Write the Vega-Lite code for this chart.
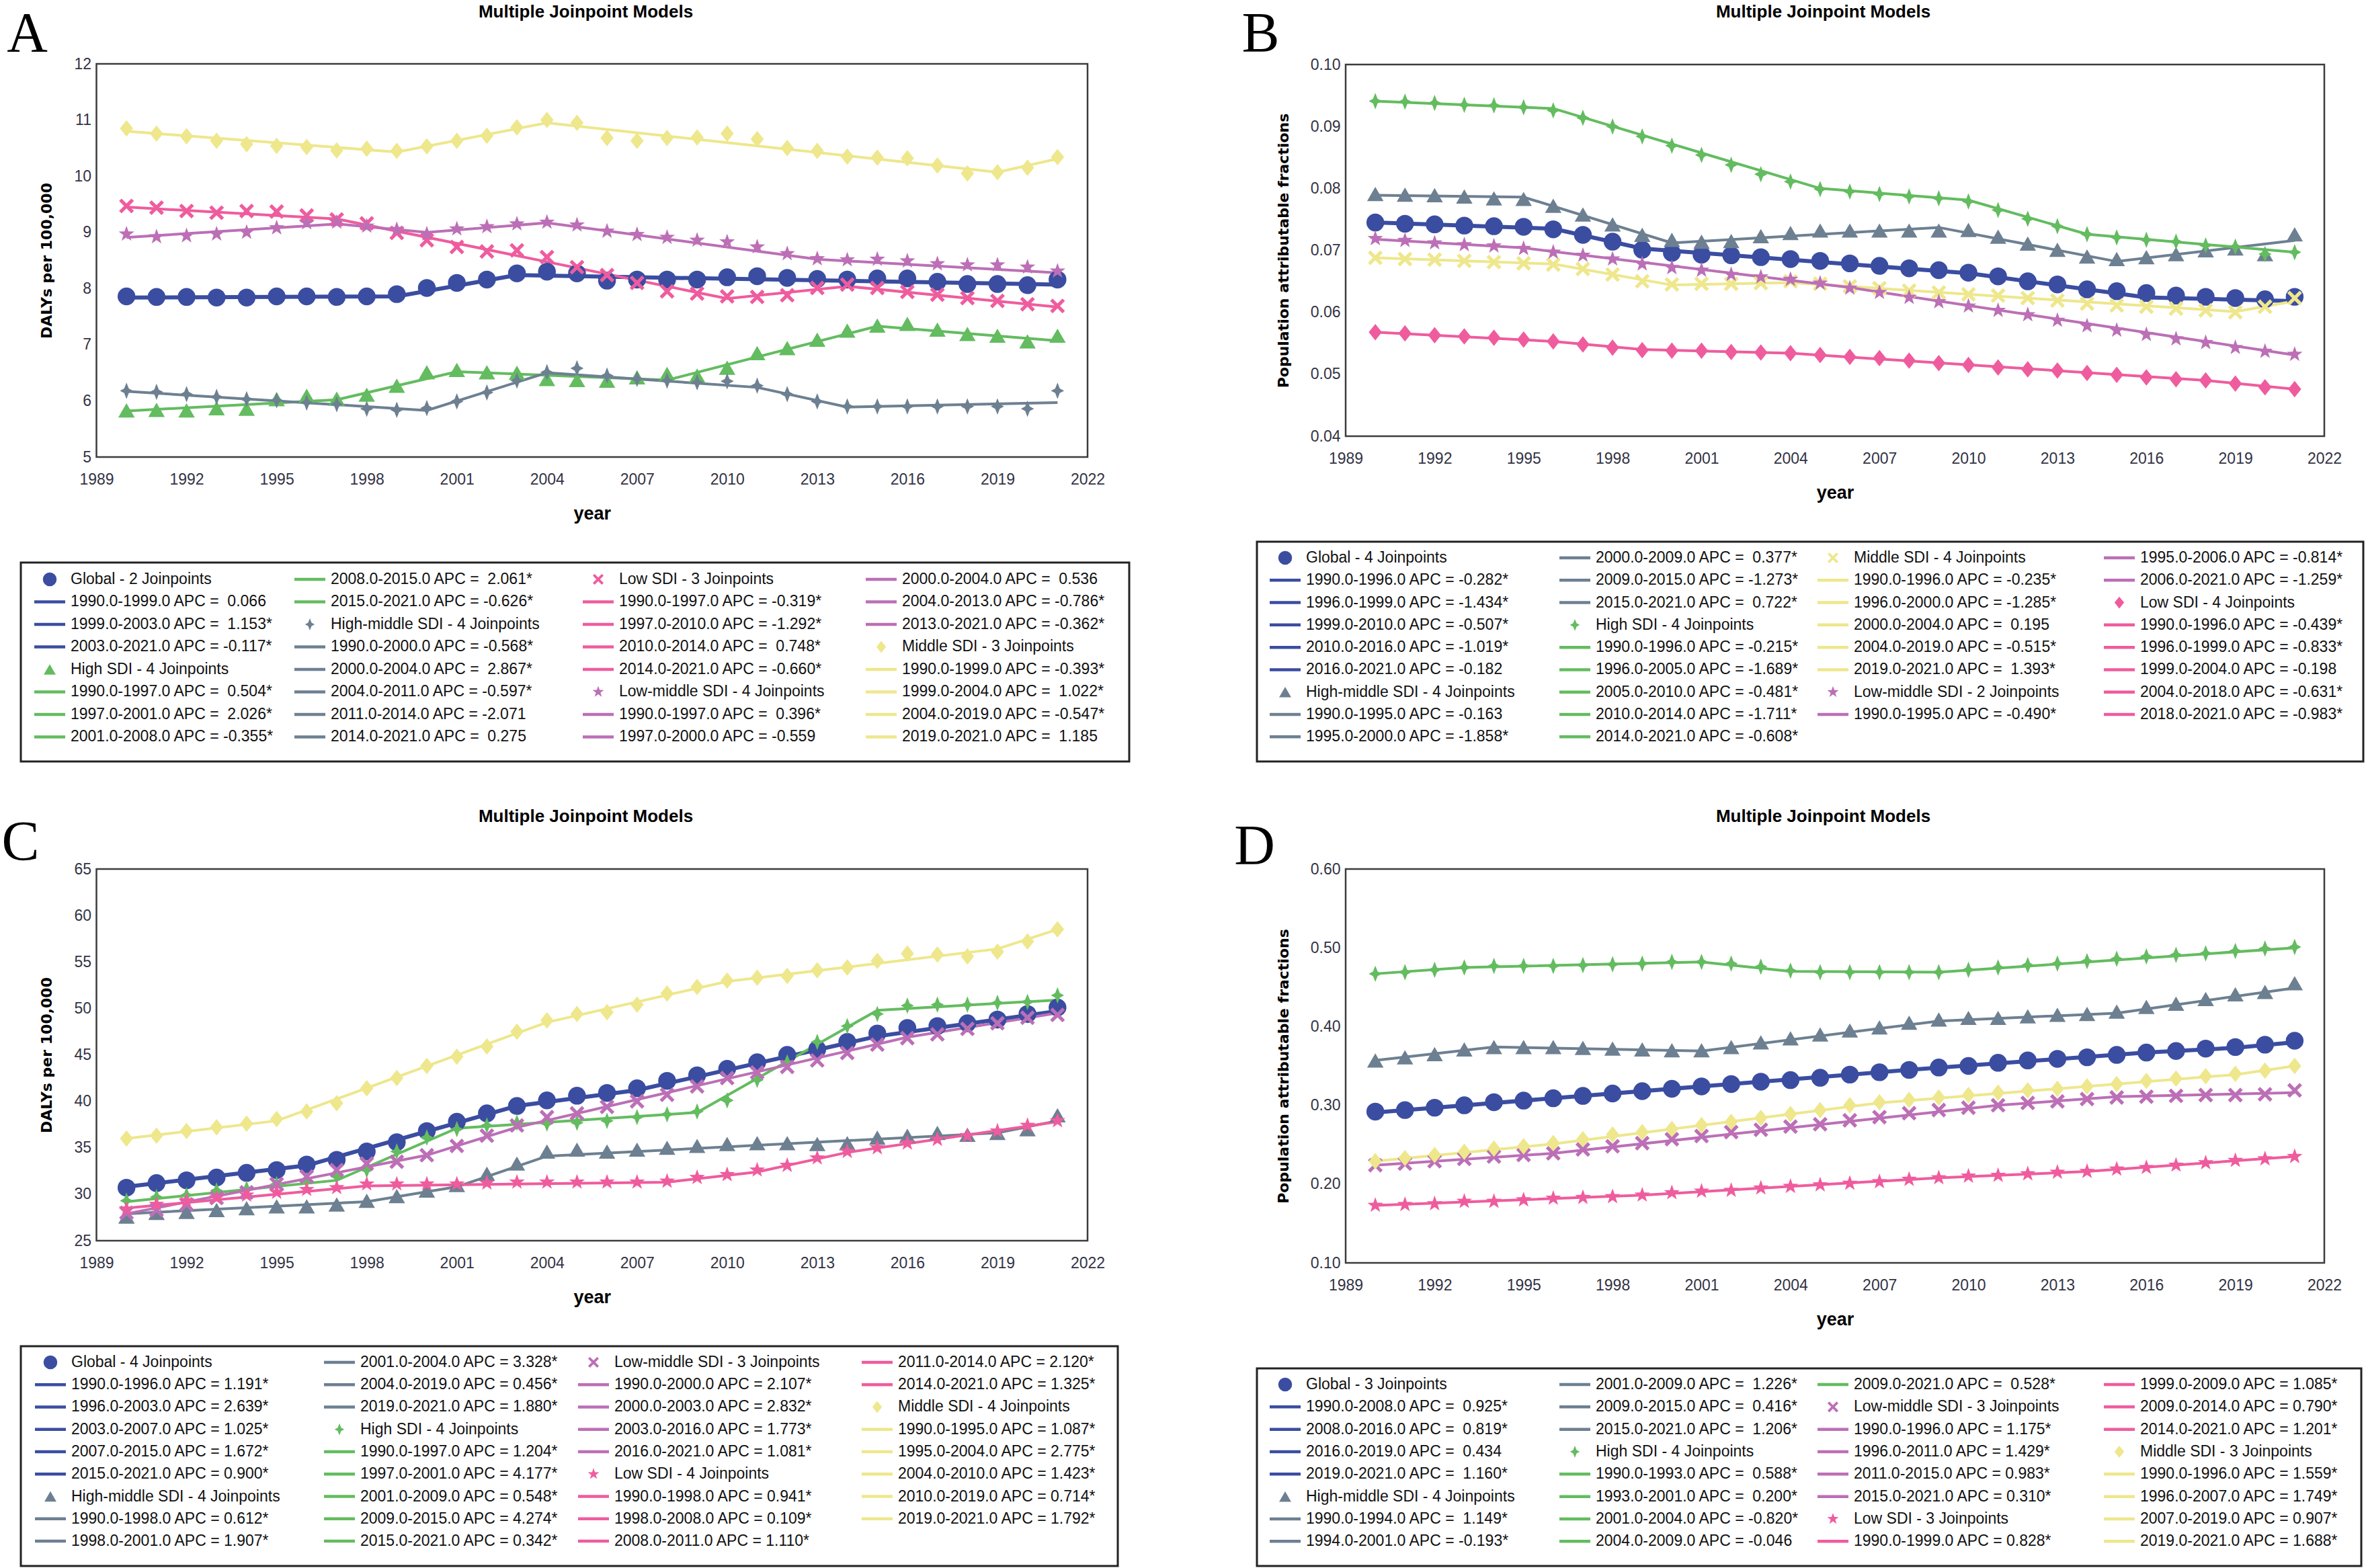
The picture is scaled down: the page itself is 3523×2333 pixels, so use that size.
{
"$schema":"https://vega.github.io/schema/vega-lite/v6.json",
"width":3523,"height":2333,"padding":0,"autosize":{"type":"none"},"background":"white",
"config":{"view":{"stroke":null},"legend":{"disable":true},
"axis":{"domain":false,"ticks":false,"tickSize":0,"grid":false,"labelFlush":false,"labelOverlap":false,"labelFont":"Liberation Sans","labelFontSize":23,"labelColor":"#333344","titleColor":"#000000","titleFont":"Liberation Sans","titleFontWeight":"bold","titleFontSize":27,"labelPadding":8}},
"resolve":{"scale":{"x":"independent","y":"independent","shape":"independent"},"axis":{"x":"independent","y":"independent"}},
"datasets":{
"Aobs":[
{"group":"Global","year":1990,"value":7.86},{"group":"Global","year":1991,"value":7.85},{"group":"Global","year":1992,"value":7.85},{"group":"Global","year":1993,"value":7.84},{"group":"Global","year":1994,"value":7.84},{"group":"Global","year":1995,"value":7.86},{"group":"Global","year":1996,"value":7.86},{"group":"Global","year":1997,"value":7.85},{"group":"Global","year":1998,"value":7.86},{"group":"Global","year":1999,"value":7.90},{"group":"Global","year":2000,"value":8.01},{"group":"Global","year":2001,"value":8.10},{"group":"Global","year":2002,"value":8.16},{"group":"Global","year":2003,"value":8.27},{"group":"Global","year":2004,"value":8.30},{"group":"Global","year":2005,"value":8.27},{"group":"Global","year":2006,"value":8.14},{"group":"Global","year":2007,"value":8.16},{"group":"Global","year":2008,"value":8.16},{"group":"Global","year":2009,"value":8.16},{"group":"Global","year":2010,"value":8.20},{"group":"Global","year":2011,"value":8.22},{"group":"Global","year":2012,"value":8.19},{"group":"Global","year":2013,"value":8.17},{"group":"Global","year":2014,"value":8.16},{"group":"Global","year":2015,"value":8.18},{"group":"Global","year":2016,"value":8.18},{"group":"Global","year":2017,"value":8.12},{"group":"Global","year":2018,"value":8.08},{"group":"Global","year":2019,"value":8.08},{"group":"Global","year":2020,"value":8.06},{"group":"Global","year":2021,"value":8.16},
{"group":"High SDI","year":1990,"value":5.83},{"group":"High SDI","year":1991,"value":5.84},{"group":"High SDI","year":1992,"value":5.83},{"group":"High SDI","year":1993,"value":5.87},{"group":"High SDI","year":1994,"value":5.86},{"group":"High SDI","year":1995,"value":6.03},{"group":"High SDI","year":1996,"value":6.09},{"group":"High SDI","year":1997,"value":6.04},{"group":"High SDI","year":1998,"value":6.11},{"group":"High SDI","year":1999,"value":6.27},{"group":"High SDI","year":2000,"value":6.51},{"group":"High SDI","year":2001,"value":6.55},{"group":"High SDI","year":2002,"value":6.51},{"group":"High SDI","year":2003,"value":6.50},{"group":"High SDI","year":2004,"value":6.39},{"group":"High SDI","year":2005,"value":6.37},{"group":"High SDI","year":2006,"value":6.36},{"group":"High SDI","year":2007,"value":6.42},{"group":"High SDI","year":2008,"value":6.48},{"group":"High SDI","year":2009,"value":6.45},{"group":"High SDI","year":2010,"value":6.59},{"group":"High SDI","year":2011,"value":6.85},{"group":"High SDI","year":2012,"value":6.94},{"group":"High SDI","year":2013,"value":7.09},{"group":"High SDI","year":2014,"value":7.25},{"group":"High SDI","year":2015,"value":7.34},{"group":"High SDI","year":2016,"value":7.37},{"group":"High SDI","year":2017,"value":7.27},{"group":"High SDI","year":2018,"value":7.19},{"group":"High SDI","year":2019,"value":7.16},{"group":"High SDI","year":2020,"value":7.06},{"group":"High SDI","year":2021,"value":7.16},
{"group":"High-middle SDI","year":1990,"value":6.18},{"group":"High-middle SDI","year":1991,"value":6.16},{"group":"High-middle SDI","year":1992,"value":6.12},{"group":"High-middle SDI","year":1993,"value":6.07},{"group":"High-middle SDI","year":1994,"value":6.03},{"group":"High-middle SDI","year":1995,"value":6.01},{"group":"High-middle SDI","year":1996,"value":5.97},{"group":"High-middle SDI","year":1997,"value":5.94},{"group":"High-middle SDI","year":1998,"value":5.86},{"group":"High-middle SDI","year":1999,"value":5.84},{"group":"High-middle SDI","year":2000,"value":5.87},{"group":"High-middle SDI","year":2001,"value":5.99},{"group":"High-middle SDI","year":2002,"value":6.15},{"group":"High-middle SDI","year":2003,"value":6.36},{"group":"High-middle SDI","year":2004,"value":6.51},{"group":"High-middle SDI","year":2005,"value":6.58},{"group":"High-middle SDI","year":2006,"value":6.45},{"group":"High-middle SDI","year":2007,"value":6.39},{"group":"High-middle SDI","year":2008,"value":6.36},{"group":"High-middle SDI","year":2009,"value":6.33},{"group":"High-middle SDI","year":2010,"value":6.35},{"group":"High-middle SDI","year":2011,"value":6.27},{"group":"High-middle SDI","year":2012,"value":6.12},{"group":"High-middle SDI","year":2013,"value":5.99},{"group":"High-middle SDI","year":2014,"value":5.90},{"group":"High-middle SDI","year":2015,"value":5.90},{"group":"High-middle SDI","year":2016,"value":5.90},{"group":"High-middle SDI","year":2017,"value":5.90},{"group":"High-middle SDI","year":2018,"value":5.90},{"group":"High-middle SDI","year":2019,"value":5.90},{"group":"High-middle SDI","year":2020,"value":5.86},{"group":"High-middle SDI","year":2021,"value":6.18},
{"group":"Low SDI","year":1990,"value":9.47},{"group":"Low SDI","year":1991,"value":9.44},{"group":"Low SDI","year":1992,"value":9.38},{"group":"Low SDI","year":1993,"value":9.35},{"group":"Low SDI","year":1994,"value":9.38},{"group":"Low SDI","year":1995,"value":9.37},{"group":"Low SDI","year":1996,"value":9.30},{"group":"Low SDI","year":1997,"value":9.23},{"group":"Low SDI","year":1998,"value":9.16},{"group":"Low SDI","year":1999,"value":8.99},{"group":"Low SDI","year":2000,"value":8.86},{"group":"Low SDI","year":2001,"value":8.74},{"group":"Low SDI","year":2002,"value":8.66},{"group":"Low SDI","year":2003,"value":8.68},{"group":"Low SDI","year":2004,"value":8.56},{"group":"Low SDI","year":2005,"value":8.38},{"group":"Low SDI","year":2006,"value":8.24},{"group":"Low SDI","year":2007,"value":8.10},{"group":"Low SDI","year":2008,"value":7.95},{"group":"Low SDI","year":2009,"value":7.91},{"group":"Low SDI","year":2010,"value":7.86},{"group":"Low SDI","year":2011,"value":7.85},{"group":"Low SDI","year":2012,"value":7.88},{"group":"Low SDI","year":2013,"value":8.01},{"group":"Low SDI","year":2014,"value":8.07},{"group":"Low SDI","year":2015,"value":8.01},{"group":"Low SDI","year":2016,"value":7.94},{"group":"Low SDI","year":2017,"value":7.89},{"group":"Low SDI","year":2018,"value":7.83},{"group":"Low SDI","year":2019,"value":7.78},{"group":"Low SDI","year":2020,"value":7.72},{"group":"Low SDI","year":2021,"value":7.69},
{"group":"Low-middle SDI","year":1990,"value":8.97},{"group":"Low-middle SDI","year":1991,"value":8.92},{"group":"Low-middle SDI","year":1992,"value":8.94},{"group":"Low-middle SDI","year":1993,"value":8.97},{"group":"Low-middle SDI","year":1994,"value":9.00},{"group":"Low-middle SDI","year":1995,"value":9.08},{"group":"Low-middle SDI","year":1996,"value":9.17},{"group":"Low-middle SDI","year":1997,"value":9.18},{"group":"Low-middle SDI","year":1998,"value":9.11},{"group":"Low-middle SDI","year":1999,"value":9.05},{"group":"Low-middle SDI","year":2000,"value":8.97},{"group":"Low-middle SDI","year":2001,"value":9.06},{"group":"Low-middle SDI","year":2002,"value":9.10},{"group":"Low-middle SDI","year":2003,"value":9.15},{"group":"Low-middle SDI","year":2004,"value":9.18},{"group":"Low-middle SDI","year":2005,"value":9.13},{"group":"Low-middle SDI","year":2006,"value":9.02},{"group":"Low-middle SDI","year":2007,"value":8.96},{"group":"Low-middle SDI","year":2008,"value":8.91},{"group":"Low-middle SDI","year":2009,"value":8.86},{"group":"Low-middle SDI","year":2010,"value":8.83},{"group":"Low-middle SDI","year":2011,"value":8.74},{"group":"Low-middle SDI","year":2012,"value":8.62},{"group":"Low-middle SDI","year":2013,"value":8.53},{"group":"Low-middle SDI","year":2014,"value":8.51},{"group":"Low-middle SDI","year":2015,"value":8.52},{"group":"Low-middle SDI","year":2016,"value":8.49},{"group":"Low-middle SDI","year":2017,"value":8.44},{"group":"Low-middle SDI","year":2018,"value":8.42},{"group":"Low-middle SDI","year":2019,"value":8.42},{"group":"Low-middle SDI","year":2020,"value":8.38},{"group":"Low-middle SDI","year":2021,"value":8.31},
{"group":"Middle SDI","year":1990,"value":10.85},{"group":"Middle SDI","year":1991,"value":10.76},{"group":"Middle SDI","year":1992,"value":10.71},{"group":"Middle SDI","year":1993,"value":10.63},{"group":"Middle SDI","year":1994,"value":10.57},{"group":"Middle SDI","year":1995,"value":10.54},{"group":"Middle SDI","year":1996,"value":10.52},{"group":"Middle SDI","year":1997,"value":10.46},{"group":"Middle SDI","year":1998,"value":10.49},{"group":"Middle SDI","year":1999,"value":10.45},{"group":"Middle SDI","year":2000,"value":10.53},{"group":"Middle SDI","year":2001,"value":10.63},{"group":"Middle SDI","year":2002,"value":10.72},{"group":"Middle SDI","year":2003,"value":10.87},{"group":"Middle SDI","year":2004,"value":11.00},{"group":"Middle SDI","year":2005,"value":10.95},{"group":"Middle SDI","year":2006,"value":10.68},{"group":"Middle SDI","year":2007,"value":10.63},{"group":"Middle SDI","year":2008,"value":10.68},{"group":"Middle SDI","year":2009,"value":10.69},{"group":"Middle SDI","year":2010,"value":10.76},{"group":"Middle SDI","year":2011,"value":10.66},{"group":"Middle SDI","year":2012,"value":10.50},{"group":"Middle SDI","year":2013,"value":10.45},{"group":"Middle SDI","year":2014,"value":10.35},{"group":"Middle SDI","year":2015,"value":10.33},{"group":"Middle SDI","year":2016,"value":10.32},{"group":"Middle SDI","year":2017,"value":10.19},{"group":"Middle SDI","year":2018,"value":10.05},{"group":"Middle SDI","year":2019,"value":10.07},{"group":"Middle SDI","year":2020,"value":10.15},{"group":"Middle SDI","year":2021,"value":10.34}
],
"Afit":[
{"group":"Global","year":1990,"value":7.84},{"group":"Global","year":1999,"value":7.86},{"group":"Global","year":2003,"value":8.24},{"group":"Global","year":2021,"value":8.07},
{"group":"High SDI","year":1990,"value":5.82},{"group":"High SDI","year":1997,"value":6.02},{"group":"High SDI","year":2001,"value":6.52},{"group":"High SDI","year":2008,"value":6.37},{"group":"High SDI","year":2015,"value":7.33},{"group":"High SDI","year":2021,"value":7.07},
{"group":"High-middle SDI","year":1990,"value":6.17},{"group":"High-middle SDI","year":2000,"value":5.83},{"group":"High-middle SDI","year":2004,"value":6.50},{"group":"High-middle SDI","year":2011,"value":6.24},{"group":"High-middle SDI","year":2014,"value":5.89},{"group":"High-middle SDI","year":2021,"value":5.97},
{"group":"Low SDI","year":1990,"value":9.45},{"group":"Low SDI","year":1997,"value":9.24},{"group":"Low SDI","year":2010,"value":7.82},{"group":"Low SDI","year":2014,"value":8.04},{"group":"Low SDI","year":2021,"value":7.67},
{"group":"Low-middle SDI","year":1990,"value":8.91},{"group":"Low-middle SDI","year":1997,"value":9.15},{"group":"Low-middle SDI","year":2000,"value":9.00},{"group":"Low-middle SDI","year":2004,"value":9.17},{"group":"Low-middle SDI","year":2013,"value":8.52},{"group":"Low-middle SDI","year":2021,"value":8.28},
{"group":"Middle SDI","year":1990,"value":10.80},{"group":"Middle SDI","year":1999,"value":10.43},{"group":"Middle SDI","year":2004,"value":10.95},{"group":"Middle SDI","year":2019,"value":10.07},{"group":"Middle SDI","year":2021,"value":10.31}
],
"Aleg":[
{"col":0,"row":0,"group":"Global","kind":"head","label":"Global - 2 Joinpoints"},
{"col":0,"row":1,"group":"Global","kind":"seg","label":"1990.0-1999.0 APC = \u00a00.066"},
{"col":0,"row":2,"group":"Global","kind":"seg","label":"1999.0-2003.0 APC = \u00a01.153*"},
{"col":0,"row":3,"group":"Global","kind":"seg","label":"2003.0-2021.0 APC = -0.117*"},
{"col":0,"row":4,"group":"High SDI","kind":"head","label":"High SDI - 4 Joinpoints"},
{"col":0,"row":5,"group":"High SDI","kind":"seg","label":"1990.0-1997.0 APC = \u00a00.504*"},
{"col":0,"row":6,"group":"High SDI","kind":"seg","label":"1997.0-2001.0 APC = \u00a02.026*"},
{"col":0,"row":7,"group":"High SDI","kind":"seg","label":"2001.0-2008.0 APC = -0.355*"},
{"col":1,"row":0,"group":"High SDI","kind":"seg","label":"2008.0-2015.0 APC = \u00a02.061*"},
{"col":1,"row":1,"group":"High SDI","kind":"seg","label":"2015.0-2021.0 APC = -0.626*"},
{"col":1,"row":2,"group":"High-middle SDI","kind":"head","label":"High-middle SDI - 4 Joinpoints"},
{"col":1,"row":3,"group":"High-middle SDI","kind":"seg","label":"1990.0-2000.0 APC = -0.568*"},
{"col":1,"row":4,"group":"High-middle SDI","kind":"seg","label":"2000.0-2004.0 APC = \u00a02.867*"},
{"col":1,"row":5,"group":"High-middle SDI","kind":"seg","label":"2004.0-2011.0 APC = -0.597*"},
{"col":1,"row":6,"group":"High-middle SDI","kind":"seg","label":"2011.0-2014.0 APC = -2.071"},
{"col":1,"row":7,"group":"High-middle SDI","kind":"seg","label":"2014.0-2021.0 APC = \u00a00.275"},
{"col":2,"row":0,"group":"Low SDI","kind":"head","label":"Low SDI - 3 Joinpoints"},
{"col":2,"row":1,"group":"Low SDI","kind":"seg","label":"1990.0-1997.0 APC = -0.319*"},
{"col":2,"row":2,"group":"Low SDI","kind":"seg","label":"1997.0-2010.0 APC = -1.292*"},
{"col":2,"row":3,"group":"Low SDI","kind":"seg","label":"2010.0-2014.0 APC = \u00a00.748*"},
{"col":2,"row":4,"group":"Low SDI","kind":"seg","label":"2014.0-2021.0 APC = -0.660*"},
{"col":2,"row":5,"group":"Low-middle SDI","kind":"head","label":"Low-middle SDI - 4 Joinpoints"},
{"col":2,"row":6,"group":"Low-middle SDI","kind":"seg","label":"1990.0-1997.0 APC = \u00a00.396*"},
{"col":2,"row":7,"group":"Low-middle SDI","kind":"seg","label":"1997.0-2000.0 APC = -0.559"},
{"col":3,"row":0,"group":"Low-middle SDI","kind":"seg","label":"2000.0-2004.0 APC = \u00a00.536"},
{"col":3,"row":1,"group":"Low-middle SDI","kind":"seg","label":"2004.0-2013.0 APC = -0.786*"},
{"col":3,"row":2,"group":"Low-middle SDI","kind":"seg","label":"2013.0-2021.0 APC = -0.362*"},
{"col":3,"row":3,"group":"Middle SDI","kind":"head","label":"Middle SDI - 3 Joinpoints"},
{"col":3,"row":4,"group":"Middle SDI","kind":"seg","label":"1990.0-1999.0 APC = -0.393*"},
{"col":3,"row":5,"group":"Middle SDI","kind":"seg","label":"1999.0-2004.0 APC = \u00a01.022*"},
{"col":3,"row":6,"group":"Middle SDI","kind":"seg","label":"2004.0-2019.0 APC = -0.547*"},
{"col":3,"row":7,"group":"Middle SDI","kind":"seg","label":"2019.0-2021.0 APC = \u00a01.185"}
],
"Bobs":[
{"group":"Global","year":1990,"value":0.0745},{"group":"Global","year":1991,"value":0.0743},{"group":"Global","year":1992,"value":0.0742},{"group":"Global","year":1993,"value":0.0740},{"group":"Global","year":1994,"value":0.0739},{"group":"Global","year":1995,"value":0.0738},{"group":"Global","year":1996,"value":0.0734},{"group":"Global","year":1997,"value":0.0725},{"group":"Global","year":1998,"value":0.0714},{"group":"Global","year":1999,"value":0.0701},{"group":"Global","year":2000,"value":0.0696},{"group":"Global","year":2001,"value":0.0693},{"group":"Global","year":2002,"value":0.0692},{"group":"Global","year":2003,"value":0.0689},{"group":"Global","year":2004,"value":0.0686},{"group":"Global","year":2005,"value":0.0683},{"group":"Global","year":2006,"value":0.0679},{"group":"Global","year":2007,"value":0.0675},{"group":"Global","year":2008,"value":0.0671},{"group":"Global","year":2009,"value":0.0668},{"group":"Global","year":2010,"value":0.0664},{"group":"Global","year":2011,"value":0.0658},{"group":"Global","year":2012,"value":0.0650},{"group":"Global","year":2013,"value":0.0645},{"group":"Global","year":2014,"value":0.0637},{"group":"Global","year":2015,"value":0.0634},{"group":"Global","year":2016,"value":0.0631},{"group":"Global","year":2017,"value":0.0627},{"group":"Global","year":2018,"value":0.0625},{"group":"Global","year":2019,"value":0.0623},{"group":"Global","year":2020,"value":0.0621},{"group":"Global","year":2021,"value":0.0625},
{"group":"High-middle SDI","year":1990,"value":0.0791},{"group":"High-middle SDI","year":1991,"value":0.0790},{"group":"High-middle SDI","year":1992,"value":0.0789},{"group":"High-middle SDI","year":1993,"value":0.0787},{"group":"High-middle SDI","year":1994,"value":0.0784},{"group":"High-middle SDI","year":1995,"value":0.0783},{"group":"High-middle SDI","year":1996,"value":0.0772},{"group":"High-middle SDI","year":1997,"value":0.0758},{"group":"High-middle SDI","year":1998,"value":0.0742},{"group":"High-middle SDI","year":1999,"value":0.0725},{"group":"High-middle SDI","year":2000,"value":0.0717},{"group":"High-middle SDI","year":2001,"value":0.0714},{"group":"High-middle SDI","year":2002,"value":0.0715},{"group":"High-middle SDI","year":2003,"value":0.0723},{"group":"High-middle SDI","year":2004,"value":0.0728},{"group":"High-middle SDI","year":2005,"value":0.0732},{"group":"High-middle SDI","year":2006,"value":0.0732},{"group":"High-middle SDI","year":2007,"value":0.0732},{"group":"High-middle SDI","year":2008,"value":0.0732},{"group":"High-middle SDI","year":2009,"value":0.0732},{"group":"High-middle SDI","year":2010,"value":0.0733},{"group":"High-middle SDI","year":2011,"value":0.0722},{"group":"High-middle SDI","year":2012,"value":0.0711},{"group":"High-middle SDI","year":2013,"value":0.0701},{"group":"High-middle SDI","year":2014,"value":0.0690},{"group":"High-middle SDI","year":2015,"value":0.0686},{"group":"High-middle SDI","year":2016,"value":0.0689},{"group":"High-middle SDI","year":2017,"value":0.0694},{"group":"High-middle SDI","year":2018,"value":0.0700},{"group":"High-middle SDI","year":2019,"value":0.0703},{"group":"High-middle SDI","year":2020,"value":0.0694},{"group":"High-middle SDI","year":2021,"value":0.0726},
{"group":"High SDI","year":1990,"value":0.0941},{"group":"High SDI","year":1991,"value":0.0940},{"group":"High SDI","year":1992,"value":0.0938},{"group":"High SDI","year":1993,"value":0.0935},{"group":"High SDI","year":1994,"value":0.0934},{"group":"High SDI","year":1995,"value":0.0931},{"group":"High SDI","year":1996,"value":0.0926},{"group":"High SDI","year":1997,"value":0.0914},{"group":"High SDI","year":1998,"value":0.0900},{"group":"High SDI","year":1999,"value":0.0884},{"group":"High SDI","year":2000,"value":0.0869},{"group":"High SDI","year":2001,"value":0.0854},{"group":"High SDI","year":2002,"value":0.0838},{"group":"High SDI","year":2003,"value":0.0823},{"group":"High SDI","year":2004,"value":0.0811},{"group":"High SDI","year":2005,"value":0.0799},{"group":"High SDI","year":2006,"value":0.0795},{"group":"High SDI","year":2007,"value":0.0791},{"group":"High SDI","year":2008,"value":0.0787},{"group":"High SDI","year":2009,"value":0.0784},{"group":"High SDI","year":2010,"value":0.0779},{"group":"High SDI","year":2011,"value":0.0765},{"group":"High SDI","year":2012,"value":0.0751},{"group":"High SDI","year":2013,"value":0.0739},{"group":"High SDI","year":2014,"value":0.0726},{"group":"High SDI","year":2015,"value":0.0721},{"group":"High SDI","year":2016,"value":0.0717},{"group":"High SDI","year":2017,"value":0.0714},{"group":"High SDI","year":2018,"value":0.0708},{"group":"High SDI","year":2019,"value":0.0706},{"group":"High SDI","year":2020,"value":0.0694},{"group":"High SDI","year":2021,"value":0.0697},
{"group":"Middle SDI","year":1990,"value":0.0688},{"group":"Middle SDI","year":1991,"value":0.0686},{"group":"Middle SDI","year":1992,"value":0.0685},{"group":"Middle SDI","year":1993,"value":0.0683},{"group":"Middle SDI","year":1994,"value":0.0681},{"group":"Middle SDI","year":1995,"value":0.0679},{"group":"Middle SDI","year":1996,"value":0.0677},{"group":"Middle SDI","year":1997,"value":0.0670},{"group":"Middle SDI","year":1998,"value":0.0661},{"group":"Middle SDI","year":1999,"value":0.0650},{"group":"Middle SDI","year":2000,"value":0.0645},{"group":"Middle SDI","year":2001,"value":0.0646},{"group":"Middle SDI","year":2002,"value":0.0646},{"group":"Middle SDI","year":2003,"value":0.0647},{"group":"Middle SDI","year":2004,"value":0.0650},{"group":"Middle SDI","year":2005,"value":0.0646},{"group":"Middle SDI","year":2006,"value":0.0642},{"group":"Middle SDI","year":2007,"value":0.0639},{"group":"Middle SDI","year":2008,"value":0.0635},{"group":"Middle SDI","year":2009,"value":0.0632},{"group":"Middle SDI","year":2010,"value":0.0629},{"group":"Middle SDI","year":2011,"value":0.0627},{"group":"Middle SDI","year":2012,"value":0.0623},{"group":"Middle SDI","year":2013,"value":0.0619},{"group":"Middle SDI","year":2014,"value":0.0614},{"group":"Middle SDI","year":2015,"value":0.0611},{"group":"Middle SDI","year":2016,"value":0.0609},{"group":"Middle SDI","year":2017,"value":0.0606},{"group":"Middle SDI","year":2018,"value":0.0603},{"group":"Middle SDI","year":2019,"value":0.0600},{"group":"Middle SDI","year":2020,"value":0.0609},{"group":"Middle SDI","year":2021,"value":0.0623},
{"group":"Low-middle SDI","year":1990,"value":0.0719},{"group":"Low-middle SDI","year":1991,"value":0.0716},{"group":"Low-middle SDI","year":1992,"value":0.0712},{"group":"Low-middle SDI","year":1993,"value":0.0709},{"group":"Low-middle SDI","year":1994,"value":0.0707},{"group":"Low-middle SDI","year":1995,"value":0.0703},{"group":"Low-middle SDI","year":1996,"value":0.0697},{"group":"Low-middle SDI","year":1997,"value":0.0692},{"group":"Low-middle SDI","year":1998,"value":0.0686},{"group":"Low-middle SDI","year":1999,"value":0.0678},{"group":"Low-middle SDI","year":2000,"value":0.0672},{"group":"Low-middle SDI","year":2001,"value":0.0668},{"group":"Low-middle SDI","year":2002,"value":0.0661},{"group":"Low-middle SDI","year":2003,"value":0.0657},{"group":"Low-middle SDI","year":2004,"value":0.0653},{"group":"Low-middle SDI","year":2005,"value":0.0647},{"group":"Low-middle SDI","year":2006,"value":0.0639},{"group":"Low-middle SDI","year":2007,"value":0.0632},{"group":"Low-middle SDI","year":2008,"value":0.0624},{"group":"Low-middle SDI","year":2009,"value":0.0617},{"group":"Low-middle SDI","year":2010,"value":0.0610},{"group":"Low-middle SDI","year":2011,"value":0.0603},{"group":"Low-middle SDI","year":2012,"value":0.0596},{"group":"Low-middle SDI","year":2013,"value":0.0587},{"group":"Low-middle SDI","year":2014,"value":0.0578},{"group":"Low-middle SDI","year":2015,"value":0.0571},{"group":"Low-middle SDI","year":2016,"value":0.0564},{"group":"Low-middle SDI","year":2017,"value":0.0557},{"group":"Low-middle SDI","year":2018,"value":0.0551},{"group":"Low-middle SDI","year":2019,"value":0.0543},{"group":"Low-middle SDI","year":2020,"value":0.0537},{"group":"Low-middle SDI","year":2021,"value":0.0532},
{"group":"Low SDI","year":1990,"value":0.0568},{"group":"Low SDI","year":1991,"value":0.0566},{"group":"Low SDI","year":1992,"value":0.0563},{"group":"Low SDI","year":1993,"value":0.0561},{"group":"Low SDI","year":1994,"value":0.0559},{"group":"Low SDI","year":1995,"value":0.0556},{"group":"Low SDI","year":1996,"value":0.0553},{"group":"Low SDI","year":1997,"value":0.0548},{"group":"Low SDI","year":1998,"value":0.0543},{"group":"Low SDI","year":1999,"value":0.0539},{"group":"Low SDI","year":2000,"value":0.0538},{"group":"Low SDI","year":2001,"value":0.0538},{"group":"Low SDI","year":2002,"value":0.0536},{"group":"Low SDI","year":2003,"value":0.0535},{"group":"Low SDI","year":2004,"value":0.0534},{"group":"Low SDI","year":2005,"value":0.0531},{"group":"Low SDI","year":2006,"value":0.0528},{"group":"Low SDI","year":2007,"value":0.0526},{"group":"Low SDI","year":2008,"value":0.0522},{"group":"Low SDI","year":2009,"value":0.0518},{"group":"Low SDI","year":2010,"value":0.0515},{"group":"Low SDI","year":2011,"value":0.0511},{"group":"Low SDI","year":2012,"value":0.0508},{"group":"Low SDI","year":2013,"value":0.0506},{"group":"Low SDI","year":2014,"value":0.0502},{"group":"Low SDI","year":2015,"value":0.0499},{"group":"Low SDI","year":2016,"value":0.0495},{"group":"Low SDI","year":2017,"value":0.0492},{"group":"Low SDI","year":2018,"value":0.0490},{"group":"Low SDI","year":2019,"value":0.0485},{"group":"Low SDI","year":2020,"value":0.0479},{"group":"Low SDI","year":2021,"value":0.0476}
],
"Bfit":[
{"group":"Global","year":1990,"value":0.0745},{"group":"Global","year":1996,"value":0.0735},{"group":"Global","year":1999,"value":0.0703},{"group":"Global","year":2010,"value":0.0663},{"group":"Global","year":2016,"value":0.0624},{"group":"Global","year":2021,"value":0.0618},
{"group":"High-middle SDI","year":1990,"value":0.0789},{"group":"High-middle SDI","year":1995,"value":0.0786},{"group":"High-middle SDI","year":2000,"value":0.0712},{"group":"High-middle SDI","year":2009,"value":0.0737},{"group":"High-middle SDI","year":2015,"value":0.0682},{"group":"High-middle SDI","year":2021,"value":0.0716},
{"group":"High SDI","year":1990,"value":0.0941},{"group":"High SDI","year":1996,"value":0.0929},{"group":"High SDI","year":2005,"value":0.0800},{"group":"High SDI","year":2010,"value":0.0781},{"group":"High SDI","year":2014,"value":0.0726},{"group":"High SDI","year":2021,"value":0.0697},
{"group":"Middle SDI","year":1990,"value":0.0688},{"group":"Middle SDI","year":1996,"value":0.0678},{"group":"Middle SDI","year":2000,"value":0.0644},{"group":"Middle SDI","year":2004,"value":0.0648},{"group":"Middle SDI","year":2019,"value":0.0601},{"group":"Middle SDI","year":2021,"value":0.0618},
{"group":"Low-middle SDI","year":1990,"value":0.0718},{"group":"Low-middle SDI","year":1995,"value":0.0704},{"group":"Low-middle SDI","year":2006,"value":0.0640},{"group":"Low-middle SDI","year":2021,"value":0.0531},
{"group":"Low SDI","year":1990,"value":0.0568},{"group":"Low SDI","year":1996,"value":0.0553},{"group":"Low SDI","year":1999,"value":0.0540},{"group":"Low SDI","year":2004,"value":0.0534},{"group":"Low SDI","year":2018,"value":0.0490},{"group":"Low SDI","year":2021,"value":0.0476}
],
"Bleg":[
{"col":0,"row":0,"group":"Global","kind":"head","label":"Global - 4 Joinpoints"},
{"col":0,"row":1,"group":"Global","kind":"seg","label":"1990.0-1996.0 APC = -0.282*"},
{"col":0,"row":2,"group":"Global","kind":"seg","label":"1996.0-1999.0 APC = -1.434*"},
{"col":0,"row":3,"group":"Global","kind":"seg","label":"1999.0-2010.0 APC = -0.507*"},
{"col":0,"row":4,"group":"Global","kind":"seg","label":"2010.0-2016.0 APC = -1.019*"},
{"col":0,"row":5,"group":"Global","kind":"seg","label":"2016.0-2021.0 APC = -0.182"},
{"col":0,"row":6,"group":"High-middle SDI","kind":"head","label":"High-middle SDI - 4 Joinpoints"},
{"col":0,"row":7,"group":"High-middle SDI","kind":"seg","label":"1990.0-1995.0 APC = -0.163"},
{"col":0,"row":8,"group":"High-middle SDI","kind":"seg","label":"1995.0-2000.0 APC = -1.858*"},
{"col":1,"row":0,"group":"High-middle SDI","kind":"seg","label":"2000.0-2009.0 APC = \u00a00.377*"},
{"col":1,"row":1,"group":"High-middle SDI","kind":"seg","label":"2009.0-2015.0 APC = -1.273*"},
{"col":1,"row":2,"group":"High-middle SDI","kind":"seg","label":"2015.0-2021.0 APC = \u00a00.722*"},
{"col":1,"row":3,"group":"High SDI","kind":"head","label":"High SDI - 4 Joinpoints"},
{"col":1,"row":4,"group":"High SDI","kind":"seg","label":"1990.0-1996.0 APC = -0.215*"},
{"col":1,"row":5,"group":"High SDI","kind":"seg","label":"1996.0-2005.0 APC = -1.689*"},
{"col":1,"row":6,"group":"High SDI","kind":"seg","label":"2005.0-2010.0 APC = -0.481*"},
{"col":1,"row":7,"group":"High SDI","kind":"seg","label":"2010.0-2014.0 APC = -1.711*"},
{"col":1,"row":8,"group":"High SDI","kind":"seg","label":"2014.0-2021.0 APC = -0.608*"},
{"col":2,"row":0,"group":"Middle SDI","kind":"head","label":"Middle SDI - 4 Joinpoints"},
{"col":2,"row":1,"group":"Middle SDI","kind":"seg","label":"1990.0-1996.0 APC = -0.235*"},
{"col":2,"row":2,"group":"Middle SDI","kind":"seg","label":"1996.0-2000.0 APC = -1.285*"},
{"col":2,"row":3,"group":"Middle SDI","kind":"seg","label":"2000.0-2004.0 APC = \u00a00.195"},
{"col":2,"row":4,"group":"Middle SDI","kind":"seg","label":"2004.0-2019.0 APC = -0.515*"},
{"col":2,"row":5,"group":"Middle SDI","kind":"seg","label":"2019.0-2021.0 APC = \u00a01.393*"},
{"col":2,"row":6,"group":"Low-middle SDI","kind":"head","label":"Low-middle SDI - 2 Joinpoints"},
{"col":2,"row":7,"group":"Low-middle SDI","kind":"seg","label":"1990.0-1995.0 APC = -0.490*"},
{"col":3,"row":0,"group":"Low-middle SDI","kind":"seg","label":"1995.0-2006.0 APC = -0.814*"},
{"col":3,"row":1,"group":"Low-middle SDI","kind":"seg","label":"2006.0-2021.0 APC = -1.259*"},
{"col":3,"row":2,"group":"Low SDI","kind":"head","label":"Low SDI - 4 Joinpoints"},
{"col":3,"row":3,"group":"Low SDI","kind":"seg","label":"1990.0-1996.0 APC = -0.439*"},
{"col":3,"row":4,"group":"Low SDI","kind":"seg","label":"1996.0-1999.0 APC = -0.833*"},
{"col":3,"row":5,"group":"Low SDI","kind":"seg","label":"1999.0-2004.0 APC = -0.198"},
{"col":3,"row":6,"group":"Low SDI","kind":"seg","label":"2004.0-2018.0 APC = -0.631*"},
{"col":3,"row":7,"group":"Low SDI","kind":"seg","label":"2018.0-2021.0 APC = -0.983*"}
],
"Cobs":[
{"group":"Global","year":1990,"value":30.7},{"group":"Global","year":1991,"value":31.2},{"group":"Global","year":1992,"value":31.5},{"group":"Global","year":1993,"value":31.8},{"group":"Global","year":1994,"value":32.3},{"group":"Global","year":1995,"value":32.6},{"group":"Global","year":1996,"value":33.2},{"group":"Global","year":1997,"value":33.7},{"group":"Global","year":1998,"value":34.6},{"group":"Global","year":1999,"value":35.6},{"group":"Global","year":2000,"value":36.8},{"group":"Global","year":2001,"value":37.8},{"group":"Global","year":2002,"value":38.7},{"group":"Global","year":2003,"value":39.5},{"group":"Global","year":2004,"value":40.1},{"group":"Global","year":2005,"value":40.6},{"group":"Global","year":2006,"value":40.9},{"group":"Global","year":2007,"value":41.4},{"group":"Global","year":2008,"value":42.2},{"group":"Global","year":2009,"value":42.8},{"group":"Global","year":2010,"value":43.5},{"group":"Global","year":2011,"value":44.2},{"group":"Global","year":2012,"value":45.0},{"group":"Global","year":2013,"value":45.6},{"group":"Global","year":2014,"value":46.4},{"group":"Global","year":2015,"value":47.3},{"group":"Global","year":2016,"value":47.9},{"group":"Global","year":2017,"value":48.1},{"group":"Global","year":2018,"value":48.4},{"group":"Global","year":2019,"value":48.8},{"group":"Global","year":2020,"value":49.4},{"group":"Global","year":2021,"value":50.1},
{"group":"High-middle SDI","year":1990,"value":27.6},{"group":"High-middle SDI","year":1991,"value":28.0},{"group":"High-middle SDI","year":1992,"value":28.1},{"group":"High-middle SDI","year":1993,"value":28.3},{"group":"High-middle SDI","year":1994,"value":28.5},{"group":"High-middle SDI","year":1995,"value":28.7},{"group":"High-middle SDI","year":1996,"value":28.7},{"group":"High-middle SDI","year":1997,"value":28.9},{"group":"High-middle SDI","year":1998,"value":29.3},{"group":"High-middle SDI","year":1999,"value":29.8},{"group":"High-middle SDI","year":2000,"value":30.4},{"group":"High-middle SDI","year":2001,"value":31.0},{"group":"High-middle SDI","year":2002,"value":32.2},{"group":"High-middle SDI","year":2003,"value":33.3},{"group":"High-middle SDI","year":2004,"value":34.6},{"group":"High-middle SDI","year":2005,"value":34.8},{"group":"High-middle SDI","year":2006,"value":34.6},{"group":"High-middle SDI","year":2007,"value":34.8},{"group":"High-middle SDI","year":2008,"value":35.0},{"group":"High-middle SDI","year":2009,"value":35.2},{"group":"High-middle SDI","year":2010,"value":35.4},{"group":"High-middle SDI","year":2011,"value":35.5},{"group":"High-middle SDI","year":2012,"value":35.5},{"group":"High-middle SDI","year":2013,"value":35.4},{"group":"High-middle SDI","year":2014,"value":35.5},{"group":"High-middle SDI","year":2015,"value":36.1},{"group":"High-middle SDI","year":2016,"value":36.3},{"group":"High-middle SDI","year":2017,"value":36.6},{"group":"High-middle SDI","year":2018,"value":36.4},{"group":"High-middle SDI","year":2019,"value":36.6},{"group":"High-middle SDI","year":2020,"value":37.0},{"group":"High-middle SDI","year":2021,"value":38.5},
{"group":"High SDI","year":1990,"value":29.3},{"group":"High SDI","year":1991,"value":29.7},{"group":"High SDI","year":1992,"value":29.9},{"group":"High SDI","year":1993,"value":30.4},{"group":"High SDI","year":1994,"value":30.6},{"group":"High SDI","year":1995,"value":31.1},{"group":"High SDI","year":1996,"value":31.5},{"group":"High SDI","year":1997,"value":31.9},{"group":"High SDI","year":1998,"value":32.6},{"group":"High SDI","year":1999,"value":34.6},{"group":"High SDI","year":2000,"value":36.1},{"group":"High SDI","year":2001,"value":37.0},{"group":"High SDI","year":2002,"value":37.4},{"group":"High SDI","year":2003,"value":37.7},{"group":"High SDI","year":2004,"value":37.6},{"group":"High SDI","year":2005,"value":37.7},{"group":"High SDI","year":2006,"value":37.9},{"group":"High SDI","year":2007,"value":38.3},{"group":"High SDI","year":2008,"value":38.6},{"group":"High SDI","year":2009,"value":38.9},{"group":"High SDI","year":2010,"value":40.1},{"group":"High SDI","year":2011,"value":42.3},{"group":"High SDI","year":2012,"value":44.2},{"group":"High SDI","year":2013,"value":46.4},{"group":"High SDI","year":2014,"value":48.1},{"group":"High SDI","year":2015,"value":49.4},{"group":"High SDI","year":2016,"value":50.3},{"group":"High SDI","year":2017,"value":50.4},{"group":"High SDI","year":2018,"value":50.4},{"group":"High SDI","year":2019,"value":50.6},{"group":"High SDI","year":2020,"value":50.7},{"group":"High SDI","year":2021,"value":51.4},
{"group":"Low-middle SDI","year":1990,"value":28.0},{"group":"Low-middle SDI","year":1991,"value":28.3},{"group":"Low-middle SDI","year":1992,"value":28.9},{"group":"Low-middle SDI","year":1993,"value":29.6},{"group":"Low-middle SDI","year":1994,"value":30.2},{"group":"Low-middle SDI","year":1995,"value":31.1},{"group":"Low-middle SDI","year":1996,"value":31.9},{"group":"Low-middle SDI","year":1997,"value":32.6},{"group":"Low-middle SDI","year":1998,"value":33.3},{"group":"Low-middle SDI","year":1999,"value":33.5},{"group":"Low-middle SDI","year":2000,"value":34.2},{"group":"Low-middle SDI","year":2001,"value":35.2},{"group":"Low-middle SDI","year":2002,"value":36.3},{"group":"Low-middle SDI","year":2003,"value":37.4},{"group":"Low-middle SDI","year":2004,"value":38.3},{"group":"Low-middle SDI","year":2005,"value":38.7},{"group":"Low-middle SDI","year":2006,"value":39.4},{"group":"Low-middle SDI","year":2007,"value":40.0},{"group":"Low-middle SDI","year":2008,"value":40.7},{"group":"Low-middle SDI","year":2009,"value":41.6},{"group":"Low-middle SDI","year":2010,"value":42.5},{"group":"Low-middle SDI","year":2011,"value":43.1},{"group":"Low-middle SDI","year":2012,"value":43.7},{"group":"Low-middle SDI","year":2013,"value":44.4},{"group":"Low-middle SDI","year":2014,"value":45.2},{"group":"Low-middle SDI","year":2015,"value":46.1},{"group":"Low-middle SDI","year":2016,"value":46.8},{"group":"Low-middle SDI","year":2017,"value":47.2},{"group":"Low-middle SDI","year":2018,"value":47.8},{"group":"Low-middle SDI","year":2019,"value":48.4},{"group":"Low-middle SDI","year":2020,"value":49.0},{"group":"Low-middle SDI","year":2021,"value":49.3},
{"group":"Low SDI","year":1990,"value":28.4},{"group":"Low SDI","year":1991,"value":28.9},{"group":"Low SDI","year":1992,"value":29.3},{"group":"Low SDI","year":1993,"value":29.6},{"group":"Low SDI","year":1994,"value":29.9},{"group":"Low SDI","year":1995,"value":30.2},{"group":"Low SDI","year":1996,"value":30.5},{"group":"Low SDI","year":1997,"value":30.7},{"group":"Low SDI","year":1998,"value":31.1},{"group":"Low SDI","year":1999,"value":31.1},{"group":"Low SDI","year":2000,"value":31.1},{"group":"Low SDI","year":2001,"value":31.1},{"group":"Low SDI","year":2002,"value":31.2},{"group":"Low SDI","year":2003,"value":31.3},{"group":"Low SDI","year":2004,"value":31.3},{"group":"Low SDI","year":2005,"value":31.3},{"group":"Low SDI","year":2006,"value":31.3},{"group":"Low SDI","year":2007,"value":31.3},{"group":"Low SDI","year":2008,"value":31.4},{"group":"Low SDI","year":2009,"value":31.8},{"group":"Low SDI","year":2010,"value":32.1},{"group":"Low SDI","year":2011,"value":32.6},{"group":"Low SDI","year":2012,"value":33.1},{"group":"Low SDI","year":2013,"value":33.9},{"group":"Low SDI","year":2014,"value":34.6},{"group":"Low SDI","year":2015,"value":35.0},{"group":"Low SDI","year":2016,"value":35.5},{"group":"Low SDI","year":2017,"value":35.9},{"group":"Low SDI","year":2018,"value":36.3},{"group":"Low SDI","year":2019,"value":36.8},{"group":"Low SDI","year":2020,"value":37.4},{"group":"Low SDI","year":2021,"value":37.9},
{"group":"Middle SDI","year":1990,"value":36.0},{"group":"Middle SDI","year":1991,"value":36.3},{"group":"Middle SDI","year":1992,"value":36.8},{"group":"Middle SDI","year":1993,"value":37.2},{"group":"Middle SDI","year":1994,"value":37.6},{"group":"Middle SDI","year":1995,"value":38.1},{"group":"Middle SDI","year":1996,"value":38.9},{"group":"Middle SDI","year":1997,"value":39.8},{"group":"Middle SDI","year":1998,"value":41.4},{"group":"Middle SDI","year":1999,"value":42.5},{"group":"Middle SDI","year":2000,"value":43.8},{"group":"Middle SDI","year":2001,"value":44.8},{"group":"Middle SDI","year":2002,"value":45.9},{"group":"Middle SDI","year":2003,"value":47.5},{"group":"Middle SDI","year":2004,"value":48.7},{"group":"Middle SDI","year":2005,"value":49.4},{"group":"Middle SDI","year":2006,"value":49.6},{"group":"Middle SDI","year":2007,"value":50.4},{"group":"Middle SDI","year":2008,"value":51.6},{"group":"Middle SDI","year":2009,"value":52.3},{"group":"Middle SDI","year":2010,"value":53.0},{"group":"Middle SDI","year":2011,"value":53.3},{"group":"Middle SDI","year":2012,"value":53.5},{"group":"Middle SDI","year":2013,"value":54.1},{"group":"Middle SDI","year":2014,"value":54.4},{"group":"Middle SDI","year":2015,"value":55.1},{"group":"Middle SDI","year":2016,"value":55.9},{"group":"Middle SDI","year":2017,"value":55.8},{"group":"Middle SDI","year":2018,"value":55.6},{"group":"Middle SDI","year":2019,"value":56.1},{"group":"Middle SDI","year":2020,"value":57.2},{"group":"Middle SDI","year":2021,"value":58.5}
],
"Cfit":[
{"group":"Global","year":1990,"value":30.8},{"group":"Global","year":1996,"value":33.1},{"group":"Global","year":2003,"value":39.5},{"group":"Global","year":2007,"value":41.2},{"group":"Global","year":2015,"value":47.0},{"group":"Global","year":2021,"value":49.7},
{"group":"High-middle SDI","year":1990,"value":27.9},{"group":"High-middle SDI","year":1998,"value":29.2},{"group":"High-middle SDI","year":2001,"value":30.8},{"group":"High-middle SDI","year":2004,"value":34.1},{"group":"High-middle SDI","year":2019,"value":36.6},{"group":"High-middle SDI","year":2021,"value":37.9},
{"group":"High SDI","year":1990,"value":29.2},{"group":"High SDI","year":1997,"value":31.5},{"group":"High SDI","year":2001,"value":37.1},{"group":"High SDI","year":2009,"value":38.8},{"group":"High SDI","year":2015,"value":49.8},{"group":"High SDI","year":2021,"value":50.9},
{"group":"Low-middle SDI","year":1990,"value":27.9},{"group":"Low-middle SDI","year":2000,"value":34.2},{"group":"Low-middle SDI","year":2003,"value":37.2},{"group":"Low-middle SDI","year":2016,"value":46.9},{"group":"Low-middle SDI","year":2021,"value":49.5},
{"group":"Low SDI","year":1990,"value":28.5},{"group":"Low SDI","year":1998,"value":30.9},{"group":"Low SDI","year":2008,"value":31.3},{"group":"Low SDI","year":2011,"value":32.4},{"group":"Low SDI","year":2014,"value":34.5},{"group":"Low SDI","year":2021,"value":37.8},
{"group":"Middle SDI","year":1990,"value":36.0},{"group":"Middle SDI","year":1995,"value":37.9},{"group":"Middle SDI","year":2004,"value":48.5},{"group":"Middle SDI","year":2010,"value":52.9},{"group":"Middle SDI","year":2019,"value":56.4},{"group":"Middle SDI","year":2021,"value":58.5}
],
"Cleg":[
{"col":0,"row":0,"group":"Global","kind":"head","label":"Global - 4 Joinpoints"},
{"col":0,"row":1,"group":"Global","kind":"seg","label":"1990.0-1996.0 APC = 1.191*"},
{"col":0,"row":2,"group":"Global","kind":"seg","label":"1996.0-2003.0 APC = 2.639*"},
{"col":0,"row":3,"group":"Global","kind":"seg","label":"2003.0-2007.0 APC = 1.025*"},
{"col":0,"row":4,"group":"Global","kind":"seg","label":"2007.0-2015.0 APC = 1.672*"},
{"col":0,"row":5,"group":"Global","kind":"seg","label":"2015.0-2021.0 APC = 0.900*"},
{"col":0,"row":6,"group":"High-middle SDI","kind":"head","label":"High-middle SDI - 4 Joinpoints"},
{"col":0,"row":7,"group":"High-middle SDI","kind":"seg","label":"1990.0-1998.0 APC = 0.612*"},
{"col":0,"row":8,"group":"High-middle SDI","kind":"seg","label":"1998.0-2001.0 APC = 1.907*"},
{"col":1,"row":0,"group":"High-middle SDI","kind":"seg","label":"2001.0-2004.0 APC = 3.328*"},
{"col":1,"row":1,"group":"High-middle SDI","kind":"seg","label":"2004.0-2019.0 APC = 0.456*"},
{"col":1,"row":2,"group":"High-middle SDI","kind":"seg","label":"2019.0-2021.0 APC = 1.880*"},
{"col":1,"row":3,"group":"High SDI","kind":"head","label":"High SDI - 4 Joinpoints"},
{"col":1,"row":4,"group":"High SDI","kind":"seg","label":"1990.0-1997.0 APC = 1.204*"},
{"col":1,"row":5,"group":"High SDI","kind":"seg","label":"1997.0-2001.0 APC = 4.177*"},
{"col":1,"row":6,"group":"High SDI","kind":"seg","label":"2001.0-2009.0 APC = 0.548*"},
{"col":1,"row":7,"group":"High SDI","kind":"seg","label":"2009.0-2015.0 APC = 4.274*"},
{"col":1,"row":8,"group":"High SDI","kind":"seg","label":"2015.0-2021.0 APC = 0.342*"},
{"col":2,"row":0,"group":"Low-middle SDI","kind":"head","label":"Low-middle SDI - 3 Joinpoints"},
{"col":2,"row":1,"group":"Low-middle SDI","kind":"seg","label":"1990.0-2000.0 APC = 2.107*"},
{"col":2,"row":2,"group":"Low-middle SDI","kind":"seg","label":"2000.0-2003.0 APC = 2.832*"},
{"col":2,"row":3,"group":"Low-middle SDI","kind":"seg","label":"2003.0-2016.0 APC = 1.773*"},
{"col":2,"row":4,"group":"Low-middle SDI","kind":"seg","label":"2016.0-2021.0 APC = 1.081*"},
{"col":2,"row":5,"group":"Low SDI","kind":"head","label":"Low SDI - 4 Joinpoints"},
{"col":2,"row":6,"group":"Low SDI","kind":"seg","label":"1990.0-1998.0 APC = 0.941*"},
{"col":2,"row":7,"group":"Low SDI","kind":"seg","label":"1998.0-2008.0 APC = 0.109*"},
{"col":2,"row":8,"group":"Low SDI","kind":"seg","label":"2008.0-2011.0 APC = 1.110*"},
{"col":3,"row":0,"group":"Low SDI","kind":"seg","label":"2011.0-2014.0 APC = 2.120*"},
{"col":3,"row":1,"group":"Low SDI","kind":"seg","label":"2014.0-2021.0 APC = 1.325*"},
{"col":3,"row":2,"group":"Middle SDI","kind":"head","label":"Middle SDI - 4 Joinpoints"},
{"col":3,"row":3,"group":"Middle SDI","kind":"seg","label":"1990.0-1995.0 APC = 1.087*"},
{"col":3,"row":4,"group":"Middle SDI","kind":"seg","label":"1995.0-2004.0 APC = 2.775*"},
{"col":3,"row":5,"group":"Middle SDI","kind":"seg","label":"2004.0-2010.0 APC = 1.423*"},
{"col":3,"row":6,"group":"Middle SDI","kind":"seg","label":"2010.0-2019.0 APC = 0.714*"},
{"col":3,"row":7,"group":"Middle SDI","kind":"seg","label":"2019.0-2021.0 APC = 1.792*"}
],
"Dobs":[
{"group":"Global","year":1990,"value":0.292},{"group":"Global","year":1991,"value":0.294},{"group":"Global","year":1992,"value":0.297},{"group":"Global","year":1993,"value":0.300},{"group":"Global","year":1994,"value":0.304},{"group":"Global","year":1995,"value":0.306},{"group":"Global","year":1996,"value":0.309},{"group":"Global","year":1997,"value":0.312},{"group":"Global","year":1998,"value":0.315},{"group":"Global","year":1999,"value":0.318},{"group":"Global","year":2000,"value":0.321},{"group":"Global","year":2001,"value":0.324},{"group":"Global","year":2002,"value":0.327},{"group":"Global","year":2003,"value":0.330},{"group":"Global","year":2004,"value":0.332},{"group":"Global","year":2005,"value":0.335},{"group":"Global","year":2006,"value":0.339},{"group":"Global","year":2007,"value":0.342},{"group":"Global","year":2008,"value":0.345},{"group":"Global","year":2009,"value":0.348},{"group":"Global","year":2010,"value":0.350},{"group":"Global","year":2011,"value":0.354},{"group":"Global","year":2012,"value":0.357},{"group":"Global","year":2013,"value":0.359},{"group":"Global","year":2014,"value":0.361},{"group":"Global","year":2015,"value":0.364},{"group":"Global","year":2016,"value":0.367},{"group":"Global","year":2017,"value":0.369},{"group":"Global","year":2018,"value":0.372},{"group":"Global","year":2019,"value":0.374},{"group":"Global","year":2020,"value":0.377},{"group":"Global","year":2021,"value":0.382},
{"group":"High-middle SDI","year":1990,"value":0.357},{"group":"High-middle SDI","year":1991,"value":0.361},{"group":"High-middle SDI","year":1992,"value":0.365},{"group":"High-middle SDI","year":1993,"value":0.371},{"group":"High-middle SDI","year":1994,"value":0.374},{"group":"High-middle SDI","year":1995,"value":0.374},{"group":"High-middle SDI","year":1996,"value":0.374},{"group":"High-middle SDI","year":1997,"value":0.373},{"group":"High-middle SDI","year":1998,"value":0.372},{"group":"High-middle SDI","year":1999,"value":0.371},{"group":"High-middle SDI","year":2000,"value":0.370},{"group":"High-middle SDI","year":2001,"value":0.370},{"group":"High-middle SDI","year":2002,"value":0.374},{"group":"High-middle SDI","year":2003,"value":0.380},{"group":"High-middle SDI","year":2004,"value":0.385},{"group":"High-middle SDI","year":2005,"value":0.390},{"group":"High-middle SDI","year":2006,"value":0.395},{"group":"High-middle SDI","year":2007,"value":0.399},{"group":"High-middle SDI","year":2008,"value":0.405},{"group":"High-middle SDI","year":2009,"value":0.409},{"group":"High-middle SDI","year":2010,"value":0.411},{"group":"High-middle SDI","year":2011,"value":0.411},{"group":"High-middle SDI","year":2012,"value":0.413},{"group":"High-middle SDI","year":2013,"value":0.415},{"group":"High-middle SDI","year":2014,"value":0.416},{"group":"High-middle SDI","year":2015,"value":0.419},{"group":"High-middle SDI","year":2016,"value":0.425},{"group":"High-middle SDI","year":2017,"value":0.429},{"group":"High-middle SDI","year":2018,"value":0.435},{"group":"High-middle SDI","year":2019,"value":0.441},{"group":"High-middle SDI","year":2020,"value":0.444},{"group":"High-middle SDI","year":2021,"value":0.455},
{"group":"High SDI","year":1990,"value":0.467},{"group":"High SDI","year":1991,"value":0.469},{"group":"High SDI","year":1992,"value":0.472},{"group":"High SDI","year":1993,"value":0.475},{"group":"High SDI","year":1994,"value":0.477},{"group":"High SDI","year":1995,"value":0.477},{"group":"High SDI","year":1996,"value":0.477},{"group":"High SDI","year":1997,"value":0.478},{"group":"High SDI","year":1998,"value":0.479},{"group":"High SDI","year":1999,"value":0.480},{"group":"High SDI","year":2000,"value":0.482},{"group":"High SDI","year":2001,"value":0.482},{"group":"High SDI","year":2002,"value":0.480},{"group":"High SDI","year":2003,"value":0.476},{"group":"High SDI","year":2004,"value":0.471},{"group":"High SDI","year":2005,"value":0.469},{"group":"High SDI","year":2006,"value":0.469},{"group":"High SDI","year":2007,"value":0.469},{"group":"High SDI","year":2008,"value":0.469},{"group":"High SDI","year":2009,"value":0.469},{"group":"High SDI","year":2010,"value":0.472},{"group":"High SDI","year":2011,"value":0.475},{"group":"High SDI","year":2012,"value":0.478},{"group":"High SDI","year":2013,"value":0.480},{"group":"High SDI","year":2014,"value":0.483},{"group":"High SDI","year":2015,"value":0.486},{"group":"High SDI","year":2016,"value":0.489},{"group":"High SDI","year":2017,"value":0.491},{"group":"High SDI","year":2018,"value":0.493},{"group":"High SDI","year":2019,"value":0.496},{"group":"High SDI","year":2020,"value":0.499},{"group":"High SDI","year":2021,"value":0.501},
{"group":"Low-middle SDI","year":1990,"value":0.224},{"group":"Low-middle SDI","year":1991,"value":0.226},{"group":"Low-middle SDI","year":1992,"value":0.229},{"group":"Low-middle SDI","year":1993,"value":0.232},{"group":"Low-middle SDI","year":1994,"value":0.235},{"group":"Low-middle SDI","year":1995,"value":0.237},{"group":"Low-middle SDI","year":1996,"value":0.239},{"group":"Low-middle SDI","year":1997,"value":0.244},{"group":"Low-middle SDI","year":1998,"value":0.248},{"group":"Low-middle SDI","year":1999,"value":0.252},{"group":"Low-middle SDI","year":2000,"value":0.257},{"group":"Low-middle SDI","year":2001,"value":0.261},{"group":"Low-middle SDI","year":2002,"value":0.266},{"group":"Low-middle SDI","year":2003,"value":0.269},{"group":"Low-middle SDI","year":2004,"value":0.273},{"group":"Low-middle SDI","year":2005,"value":0.276},{"group":"Low-middle SDI","year":2006,"value":0.281},{"group":"Low-middle SDI","year":2007,"value":0.285},{"group":"Low-middle SDI","year":2008,"value":0.290},{"group":"Low-middle SDI","year":2009,"value":0.294},{"group":"Low-middle SDI","year":2010,"value":0.297},{"group":"Low-middle SDI","year":2011,"value":0.300},{"group":"Low-middle SDI","year":2012,"value":0.303},{"group":"Low-middle SDI","year":2013,"value":0.305},{"group":"Low-middle SDI","year":2014,"value":0.308},{"group":"Low-middle SDI","year":2015,"value":0.310},{"group":"Low-middle SDI","year":2016,"value":0.311},{"group":"Low-middle SDI","year":2017,"value":0.312},{"group":"Low-middle SDI","year":2018,"value":0.313},{"group":"Low-middle SDI","year":2019,"value":0.313},{"group":"Low-middle SDI","year":2020,"value":0.314},{"group":"Low-middle SDI","year":2021,"value":0.319},
{"group":"Low SDI","year":1990,"value":0.173},{"group":"Low SDI","year":1991,"value":0.174},{"group":"Low SDI","year":1992,"value":0.175},{"group":"Low SDI","year":1993,"value":0.178},{"group":"Low SDI","year":1994,"value":0.178},{"group":"Low SDI","year":1995,"value":0.180},{"group":"Low SDI","year":1996,"value":0.182},{"group":"Low SDI","year":1997,"value":0.183},{"group":"Low SDI","year":1998,"value":0.184},{"group":"Low SDI","year":1999,"value":0.186},{"group":"Low SDI","year":2000,"value":0.189},{"group":"Low SDI","year":2001,"value":0.191},{"group":"Low SDI","year":2002,"value":0.192},{"group":"Low SDI","year":2003,"value":0.195},{"group":"Low SDI","year":2004,"value":0.197},{"group":"Low SDI","year":2005,"value":0.199},{"group":"Low SDI","year":2006,"value":0.201},{"group":"Low SDI","year":2007,"value":0.203},{"group":"Low SDI","year":2008,"value":0.206},{"group":"Low SDI","year":2009,"value":0.208},{"group":"Low SDI","year":2010,"value":0.210},{"group":"Low SDI","year":2011,"value":0.211},{"group":"Low SDI","year":2012,"value":0.213},{"group":"Low SDI","year":2013,"value":0.215},{"group":"Low SDI","year":2014,"value":0.216},{"group":"Low SDI","year":2015,"value":0.219},{"group":"Low SDI","year":2016,"value":0.221},{"group":"Low SDI","year":2017,"value":0.224},{"group":"Low SDI","year":2018,"value":0.227},{"group":"Low SDI","year":2019,"value":0.230},{"group":"Low SDI","year":2020,"value":0.232},{"group":"Low SDI","year":2021,"value":0.235},
{"group":"Middle SDI","year":1990,"value":0.229},{"group":"Middle SDI","year":1991,"value":0.233},{"group":"Middle SDI","year":1992,"value":0.237},{"group":"Middle SDI","year":1993,"value":0.241},{"group":"Middle SDI","year":1994,"value":0.245},{"group":"Middle SDI","year":1995,"value":0.248},{"group":"Middle SDI","year":1996,"value":0.252},{"group":"Middle SDI","year":1997,"value":0.257},{"group":"Middle SDI","year":1998,"value":0.263},{"group":"Middle SDI","year":1999,"value":0.266},{"group":"Middle SDI","year":2000,"value":0.270},{"group":"Middle SDI","year":2001,"value":0.275},{"group":"Middle SDI","year":2002,"value":0.279},{"group":"Middle SDI","year":2003,"value":0.284},{"group":"Middle SDI","year":2004,"value":0.289},{"group":"Middle SDI","year":2005,"value":0.294},{"group":"Middle SDI","year":2006,"value":0.300},{"group":"Middle SDI","year":2007,"value":0.304},{"group":"Middle SDI","year":2008,"value":0.307},{"group":"Middle SDI","year":2009,"value":0.310},{"group":"Middle SDI","year":2010,"value":0.313},{"group":"Middle SDI","year":2011,"value":0.316},{"group":"Middle SDI","year":2012,"value":0.319},{"group":"Middle SDI","year":2013,"value":0.321},{"group":"Middle SDI","year":2014,"value":0.324},{"group":"Middle SDI","year":2015,"value":0.327},{"group":"Middle SDI","year":2016,"value":0.331},{"group":"Middle SDI","year":2017,"value":0.334},{"group":"Middle SDI","year":2018,"value":0.337},{"group":"Middle SDI","year":2019,"value":0.340},{"group":"Middle SDI","year":2020,"value":0.344},{"group":"Middle SDI","year":2021,"value":0.350}
],
"Dfit":[
{"group":"Global","year":1990,"value":0.291},{"group":"Global","year":2008,"value":0.345},{"group":"Global","year":2016,"value":0.367},{"group":"Global","year":2019,"value":0.373},{"group":"Global","year":2021,"value":0.380},
{"group":"High-middle SDI","year":1990,"value":0.357},{"group":"High-middle SDI","year":1994,"value":0.374},{"group":"High-middle SDI","year":2001,"value":0.369},{"group":"High-middle SDI","year":2009,"value":0.407},{"group":"High-middle SDI","year":2015,"value":0.417},{"group":"High-middle SDI","year":2021,"value":0.449},
{"group":"High SDI","year":1990,"value":0.467},{"group":"High SDI","year":1993,"value":0.475},{"group":"High SDI","year":2001,"value":0.482},{"group":"High SDI","year":2004,"value":0.470},{"group":"High SDI","year":2009,"value":0.469},{"group":"High SDI","year":2021,"value":0.500},
{"group":"Low-middle SDI","year":1990,"value":0.224},{"group":"Low-middle SDI","year":1996,"value":0.239},{"group":"Low-middle SDI","year":2011,"value":0.300},{"group":"Low-middle SDI","year":2015,"value":0.311},{"group":"Low-middle SDI","year":2021,"value":0.316},
{"group":"Low SDI","year":1990,"value":0.173},{"group":"Low SDI","year":1999,"value":0.186},{"group":"Low SDI","year":2009,"value":0.208},{"group":"Low SDI","year":2014,"value":0.216},{"group":"Low SDI","year":2021,"value":0.235},
{"group":"Middle SDI","year":1990,"value":0.229},{"group":"Middle SDI","year":1996,"value":0.251},{"group":"Middle SDI","year":2007,"value":0.303},{"group":"Middle SDI","year":2019,"value":0.339},{"group":"Middle SDI","year":2021,"value":0.350}
],
"Dleg":[
{"col":0,"row":0,"group":"Global","kind":"head","label":"Global - 3 Joinpoints"},
{"col":0,"row":1,"group":"Global","kind":"seg","label":"1990.0-2008.0 APC = \u00a00.925*"},
{"col":0,"row":2,"group":"Global","kind":"seg","label":"2008.0-2016.0 APC = \u00a00.819*"},
{"col":0,"row":3,"group":"Global","kind":"seg","label":"2016.0-2019.0 APC = \u00a00.434"},
{"col":0,"row":4,"group":"Global","kind":"seg","label":"2019.0-2021.0 APC = \u00a01.160*"},
{"col":0,"row":5,"group":"High-middle SDI","kind":"head","label":"High-middle SDI - 4 Joinpoints"},
{"col":0,"row":6,"group":"High-middle SDI","kind":"seg","label":"1990.0-1994.0 APC = \u00a01.149*"},
{"col":0,"row":7,"group":"High-middle SDI","kind":"seg","label":"1994.0-2001.0 APC = -0.193*"},
{"col":1,"row":0,"group":"High-middle SDI","kind":"seg","label":"2001.0-2009.0 APC = \u00a01.226*"},
{"col":1,"row":1,"group":"High-middle SDI","kind":"seg","label":"2009.0-2015.0 APC = \u00a00.416*"},
{"col":1,"row":2,"group":"High-middle SDI","kind":"seg","label":"2015.0-2021.0 APC = \u00a01.206*"},
{"col":1,"row":3,"group":"High SDI","kind":"head","label":"High SDI - 4 Joinpoints"},
{"col":1,"row":4,"group":"High SDI","kind":"seg","label":"1990.0-1993.0 APC = \u00a00.588*"},
{"col":1,"row":5,"group":"High SDI","kind":"seg","label":"1993.0-2001.0 APC = \u00a00.200*"},
{"col":1,"row":6,"group":"High SDI","kind":"seg","label":"2001.0-2004.0 APC = -0.820*"},
{"col":1,"row":7,"group":"High SDI","kind":"seg","label":"2004.0-2009.0 APC = -0.046"},
{"col":2,"row":0,"group":"High SDI","kind":"seg","label":"2009.0-2021.0 APC = \u00a00.528*"},
{"col":2,"row":1,"group":"Low-middle SDI","kind":"head","label":"Low-middle SDI - 3 Joinpoints"},
{"col":2,"row":2,"group":"Low-middle SDI","kind":"seg","label":"1990.0-1996.0 APC = 1.175*"},
{"col":2,"row":3,"group":"Low-middle SDI","kind":"seg","label":"1996.0-2011.0 APC = 1.429*"},
{"col":2,"row":4,"group":"Low-middle SDI","kind":"seg","label":"2011.0-2015.0 APC = 0.983*"},
{"col":2,"row":5,"group":"Low-middle SDI","kind":"seg","label":"2015.0-2021.0 APC = 0.310*"},
{"col":2,"row":6,"group":"Low SDI","kind":"head","label":"Low SDI - 3 Joinpoints"},
{"col":2,"row":7,"group":"Low SDI","kind":"seg","label":"1990.0-1999.0 APC = 0.828*"},
{"col":3,"row":0,"group":"Low SDI","kind":"seg","label":"1999.0-2009.0 APC = 1.085*"},
{"col":3,"row":1,"group":"Low SDI","kind":"seg","label":"2009.0-2014.0 APC = 0.790*"},
{"col":3,"row":2,"group":"Low SDI","kind":"seg","label":"2014.0-2021.0 APC = 1.201*"},
{"col":3,"row":3,"group":"Middle SDI","kind":"head","label":"Middle SDI - 3 Joinpoints"},
{"col":3,"row":4,"group":"Middle SDI","kind":"seg","label":"1990.0-1996.0 APC = 1.559*"},
{"col":3,"row":5,"group":"Middle SDI","kind":"seg","label":"1996.0-2007.0 APC = 1.749*"},
{"col":3,"row":6,"group":"Middle SDI","kind":"seg","label":"2007.0-2019.0 APC = 0.907*"},
{"col":3,"row":7,"group":"Middle SDI","kind":"seg","label":"2019.0-2021.0 APC = 1.688*"}
]
},
"layer":[
{"layer":[
 {"data":{"values":[{}]},"mark":{"type":"rect","fillOpacity":0,"stroke":"#3c3c3c","strokeWidth":2.5},
  "encoding":{"x":{"datum":1989,"type":"quantitative","scale":{"domain":[1989,2022],"range":[143.5,1618],"nice":false,"zero":false},"axis":{"orient":"bottom","offset":-1653,"values":[1989,1992,1995,1998,2001,2004,2007,2010,2013,2016,2019,2022],"format":"d","labelPadding":22,"title":"year","titlePadding":26}},"x2":{"datum":2022},
   "y":{"datum":5,"type":"quantitative","scale":{"domain":[5,12],"range":[680,95],"nice":false,"zero":false},"axis":{"orient":"left","offset":-143.5,"values":[5,6,7,8,9,10,11,12],"format":"d","title":"DALYs per 100,000","titlePadding":28,"titleFont":"DejaVu Sans","titleFontSize":22}},"y2":{"datum":12}}},
 {"data":{"name":"Afit"},"mark":{"type":"line"},
  "encoding":{"x":{"field":"year","type":"quantitative","scale":{"domain":[1989,2022],"range":[143.5,1618],"nice":false,"zero":false},"axis":{"orient":"bottom","offset":-1653,"values":[1989,1992,1995,1998,2001,2004,2007,2010,2013,2016,2019,2022],"format":"d","labelPadding":22,"title":"year","titlePadding":26}},
   "y":{"field":"value","type":"quantitative","scale":{"domain":[5,12],"range":[680,95],"nice":false,"zero":false},"axis":{"orient":"left","offset":-143.5,"values":[5,6,7,8,9,10,11,12],"format":"d","title":"DALYs per 100,000","titlePadding":28,"titleFont":"DejaVu Sans","titleFontSize":22}},
   "color":{"field":"group","type":"nominal","scale":{"domain":["Global","High SDI","High-middle SDI","Middle SDI","Low-middle SDI","Low SDI"],"range":["#3A4DA1","#63BC5F","#6D8092","#EEE78C","#BC6FB6","#EF5C9E"]},"legend":null},
   "strokeWidth":{"condition":{"test":"datum.group === 'Global'","value":6},"value":4}}},
 {"data":{"name":"Aobs"},"mark":{"type":"point","filled":true,"opacity":1},
  "encoding":{"x":{"field":"year","type":"quantitative","scale":{"domain":[1989,2022],"range":[143.5,1618],"nice":false,"zero":false},"axis":{"orient":"bottom","offset":-1653,"values":[1989,1992,1995,1998,2001,2004,2007,2010,2013,2016,2019,2022],"format":"d","labelPadding":22,"title":"year","titlePadding":26}},
   "y":{"field":"value","type":"quantitative","scale":{"domain":[5,12],"range":[680,95],"nice":false,"zero":false},"axis":{"orient":"left","offset":-143.5,"values":[5,6,7,8,9,10,11,12],"format":"d","title":"DALYs per 100,000","titlePadding":28,"titleFont":"DejaVu Sans","titleFontSize":22}},
   "color":{"field":"group","type":"nominal","scale":{"domain":["Global","High SDI","High-middle SDI","Middle SDI","Low-middle SDI","Low SDI"],"range":["#3A4DA1","#63BC5F","#6D8092","#EEE78C","#BC6FB6","#EF5C9E"]},"legend":null},
   "shape":{"field":"group","type":"nominal","scale":{"domain":["Global","High SDI","High-middle SDI","Low SDI","Low-middle SDI","Middle SDI"],"range":["circle","triangle-up","M0,-1L0.28,-0.28L0.8,0L0.28,0.28L0,1L-0.28,0.28L-0.8,0L-0.28,-0.28Z","M-0.9,-0.6L-0.6,-0.9L0,-0.3L0.6,-0.9L0.9,-0.6L0.3,0L0.9,0.6L0.6,0.9L0,0.3L-0.6,0.9L-0.9,0.6L-0.3,0Z","M0,-1L0.235,-0.324L0.951,-0.309L0.38,0.124L0.588,0.809L0,0.4L-0.588,0.809L-0.38,0.124L-0.951,-0.309L-0.235,-0.324Z","M0,-1L0.8,0L0,1L-0.8,0Z"]},"legend":null},
   "size":{"condition":{"test":"datum.group === 'Global'","value":700},"value":600}}}
]},
{"layer":[
  {"data":{"values":[{}]},"mark":{"type":"rect","fillOpacity":0,"stroke":"#222222","strokeWidth":3},
   "encoding":{"x":{"datum":-1,"type":"quantitative","scale":{"domain":[-1,0,1,2,3,4],"range":[31,74,461,890,1311,1680],"nice":false,"zero":false},"axis":{"orient":"top","offset":0,"labels":false,"title":"Multiple Joinpoint Models","titleX":871,"titleY":25,"titleAlign":"center","titleBaseline":"alphabetic","titleAngle":0,"titleFontSize":26}},"x2":{"datum":4},
    "y":{"datum":-0.746,"type":"quantitative","scale":{"domain":[-0.746,8.09],"range":[837,1133],"nice":false,"zero":false},"axis":{"orient":"left","offset":0,"labels":false,"title":"A","titleX":40,"titleY":76,"titleAngle":0,"titleAlign":"center","titleBaseline":"alphabetic","titleFont":"Liberation Serif","titleFontWeight":"normal","titleFontSize":84}},"y2":{"datum":8.09}}},
  {"data":{"name":"Aleg"},
   "encoding":{"x":{"field":"col","type":"quantitative","scale":{"domain":[-1,0,1,2,3,4],"range":[31,74,461,890,1311,1680],"nice":false,"zero":false},"axis":{"orient":"top","offset":0,"labels":false,"title":"Multiple Joinpoint Models","titleX":871,"titleY":25,"titleAlign":"center","titleBaseline":"alphabetic","titleAngle":0,"titleFontSize":26}},
    "y":{"field":"row","type":"quantitative","scale":{"domain":[-0.746,8.09],"range":[837,1133],"nice":false,"zero":false},"axis":{"orient":"left","offset":0,"labels":false,"title":"A","titleX":40,"titleY":76,"titleAngle":0,"titleAlign":"center","titleBaseline":"alphabetic","titleFont":"Liberation Serif","titleFontWeight":"normal","titleFontSize":84}}},
   "layer":[
    {"transform":[{"filter":"datum.kind === 'seg'"}],"mark":{"type":"point","shape":"stroke","size":2116,"strokeWidth":4.5,"filled":false,"opacity":1},
     "encoding":{"color":{"field":"group","type":"nominal","scale":{"domain":["Global","High SDI","High-middle SDI","Middle SDI","Low-middle SDI","Low SDI"],"range":["#3A4DA1","#63BC5F","#6D8092","#EEE78C","#BC6FB6","#EF5C9E"]},"legend":null}}},
    {"transform":[{"filter":"datum.kind === 'head'"}],"mark":{"type":"point","filled":true,"opacity":1},
     "encoding":{"color":{"field":"group","type":"nominal","scale":{"domain":["Global","High SDI","High-middle SDI","Middle SDI","Low-middle SDI","Low SDI"],"range":["#3A4DA1","#63BC5F","#6D8092","#EEE78C","#BC6FB6","#EF5C9E"]},"legend":null},
      "shape":{"field":"group","type":"nominal","scale":{"domain":["Global","High SDI","High-middle SDI","Low SDI","Low-middle SDI","Middle SDI"],"range":["circle","triangle-up","M0,-1L0.28,-0.28L0.8,0L0.28,0.28L0,1L-0.28,0.28L-0.8,0L-0.28,-0.28Z","M-0.9,-0.6L-0.6,-0.9L0,-0.3L0.6,-0.9L0.9,-0.6L0.3,0L0.9,0.6L0.6,0.9L0,0.3L-0.6,0.9L-0.9,0.6L-0.3,0Z","M0,-1L0.235,-0.324L0.951,-0.309L0.38,0.124L0.588,0.809L0,0.4L-0.588,0.809L-0.38,0.124L-0.951,-0.309L-0.235,-0.324Z","M0,-1L0.8,0L0,1L-0.8,0Z"]},"legend":null},
      "size":{"condition":{"test":"datum.group === 'Global'","value":420},"value":320}}},
    {"mark":{"type":"text","align":"left","baseline":"middle","dx":31,"font":"Liberation Sans","fontSize":23,"color":"#111111"},
     "encoding":{"text":{"field":"label","type":"nominal"}}}
   ]}
]},
{"layer":[
 {"data":{"values":[{}]},"mark":{"type":"rect","fillOpacity":0,"stroke":"#3c3c3c","strokeWidth":2.5},
  "encoding":{"x":{"datum":1989,"type":"quantitative","scale":{"domain":[1989,2022],"range":[2002,3458],"nice":false,"zero":false},"axis":{"orient":"bottom","offset":-1684,"values":[1989,1992,1995,1998,2001,2004,2007,2010,2013,2016,2019,2022],"format":"d","labelPadding":22,"title":"year","titlePadding":26}},"x2":{"datum":2022},
   "y":{"datum":0.04,"type":"quantitative","scale":{"domain":[0.04,0.10],"range":[649,96],"nice":false,"zero":false},"axis":{"orient":"left","offset":-2002,"values":[0.04,0.05,0.06,0.07,0.08,0.09,0.10],"format":".2f","title":"Population attributable fractions","titlePadding":28,"titleFont":"DejaVu Sans","titleFontSize":22}},"y2":{"datum":0.10}}},
 {"data":{"name":"Bfit"},"mark":{"type":"line"},
  "encoding":{"x":{"field":"year","type":"quantitative","scale":{"domain":[1989,2022],"range":[2002,3458],"nice":false,"zero":false},"axis":{"orient":"bottom","offset":-1684,"values":[1989,1992,1995,1998,2001,2004,2007,2010,2013,2016,2019,2022],"format":"d","labelPadding":22,"title":"year","titlePadding":26}},
   "y":{"field":"value","type":"quantitative","scale":{"domain":[0.04,0.10],"range":[649,96],"nice":false,"zero":false},"axis":{"orient":"left","offset":-2002,"values":[0.04,0.05,0.06,0.07,0.08,0.09,0.10],"format":".2f","title":"Population attributable fractions","titlePadding":28,"titleFont":"DejaVu Sans","titleFontSize":22}},
   "color":{"field":"group","type":"nominal","scale":{"domain":["Global","High SDI","High-middle SDI","Middle SDI","Low-middle SDI","Low SDI"],"range":["#3A4DA1","#63BC5F","#6D8092","#EEE78C","#BC6FB6","#EF5C9E"]},"legend":null},
   "strokeWidth":{"condition":{"test":"datum.group === 'Global'","value":6},"value":4}}},
 {"data":{"name":"Bobs"},"mark":{"type":"point","filled":true,"opacity":1},
  "encoding":{"x":{"field":"year","type":"quantitative","scale":{"domain":[1989,2022],"range":[2002,3458],"nice":false,"zero":false},"axis":{"orient":"bottom","offset":-1684,"values":[1989,1992,1995,1998,2001,2004,2007,2010,2013,2016,2019,2022],"format":"d","labelPadding":22,"title":"year","titlePadding":26}},
   "y":{"field":"value","type":"quantitative","scale":{"domain":[0.04,0.10],"range":[649,96],"nice":false,"zero":false},"axis":{"orient":"left","offset":-2002,"values":[0.04,0.05,0.06,0.07,0.08,0.09,0.10],"format":".2f","title":"Population attributable fractions","titlePadding":28,"titleFont":"DejaVu Sans","titleFontSize":22}},
   "color":{"field":"group","type":"nominal","scale":{"domain":["Global","High SDI","High-middle SDI","Middle SDI","Low-middle SDI","Low SDI"],"range":["#3A4DA1","#63BC5F","#6D8092","#EEE78C","#BC6FB6","#EF5C9E"]},"legend":null},
   "shape":{"field":"group","type":"nominal","scale":{"domain":["Global","High-middle SDI","High SDI","Middle SDI","Low-middle SDI","Low SDI"],"range":["circle","triangle-up","M0,-1L0.28,-0.28L0.8,0L0.28,0.28L0,1L-0.28,0.28L-0.8,0L-0.28,-0.28Z","M-0.9,-0.6L-0.6,-0.9L0,-0.3L0.6,-0.9L0.9,-0.6L0.3,0L0.9,0.6L0.6,0.9L0,0.3L-0.6,0.9L-0.9,0.6L-0.3,0Z","M0,-1L0.235,-0.324L0.951,-0.309L0.38,0.124L0.588,0.809L0,0.4L-0.588,0.809L-0.38,0.124L-0.951,-0.309L-0.235,-0.324Z","M0,-1L0.8,0L0,1L-0.8,0Z"]},"legend":null},
   "size":{"condition":{"test":"datum.group === 'Global'","value":700},"value":600}}}
]},
{"layer":[
  {"data":{"values":[{}]},"mark":{"type":"rect","fillOpacity":0,"stroke":"#222222","strokeWidth":3},
   "encoding":{"x":{"datum":-1,"type":"quantitative","scale":{"domain":[-1,0,1,2,3,4],"range":[1870,1912,2343,2727,3153,3516],"nice":false,"zero":false},"axis":{"orient":"top","offset":0,"labels":false,"title":"Multiple Joinpoint Models","titleX":2712,"titleY":25,"titleAlign":"center","titleBaseline":"alphabetic","titleAngle":0,"titleFontSize":26}},"x2":{"datum":4},
    "y":{"datum":-0.72,"type":"quantitative","scale":{"domain":[-0.72,9.1],"range":[806,1133],"nice":false,"zero":false},"axis":{"orient":"left","offset":0,"labels":false,"title":"B","titleX":1875,"titleY":76,"titleAngle":0,"titleAlign":"center","titleBaseline":"alphabetic","titleFont":"Liberation Serif","titleFontWeight":"normal","titleFontSize":84}},"y2":{"datum":9.1}}},
  {"data":{"name":"Bleg"},
   "encoding":{"x":{"field":"col","type":"quantitative","scale":{"domain":[-1,0,1,2,3,4],"range":[1870,1912,2343,2727,3153,3516],"nice":false,"zero":false},"axis":{"orient":"top","offset":0,"labels":false,"title":"Multiple Joinpoint Models","titleX":2712,"titleY":25,"titleAlign":"center","titleBaseline":"alphabetic","titleAngle":0,"titleFontSize":26}},
    "y":{"field":"row","type":"quantitative","scale":{"domain":[-0.72,9.1],"range":[806,1133],"nice":false,"zero":false},"axis":{"orient":"left","offset":0,"labels":false,"title":"B","titleX":1875,"titleY":76,"titleAngle":0,"titleAlign":"center","titleBaseline":"alphabetic","titleFont":"Liberation Serif","titleFontWeight":"normal","titleFontSize":84}}},
   "layer":[
    {"transform":[{"filter":"datum.kind === 'seg'"}],"mark":{"type":"point","shape":"stroke","size":2116,"strokeWidth":4.5,"filled":false,"opacity":1},
     "encoding":{"color":{"field":"group","type":"nominal","scale":{"domain":["Global","High SDI","High-middle SDI","Middle SDI","Low-middle SDI","Low SDI"],"range":["#3A4DA1","#63BC5F","#6D8092","#EEE78C","#BC6FB6","#EF5C9E"]},"legend":null}}},
    {"transform":[{"filter":"datum.kind === 'head'"}],"mark":{"type":"point","filled":true,"opacity":1},
     "encoding":{"color":{"field":"group","type":"nominal","scale":{"domain":["Global","High SDI","High-middle SDI","Middle SDI","Low-middle SDI","Low SDI"],"range":["#3A4DA1","#63BC5F","#6D8092","#EEE78C","#BC6FB6","#EF5C9E"]},"legend":null},
      "shape":{"field":"group","type":"nominal","scale":{"domain":["Global","High-middle SDI","High SDI","Middle SDI","Low-middle SDI","Low SDI"],"range":["circle","triangle-up","M0,-1L0.28,-0.28L0.8,0L0.28,0.28L0,1L-0.28,0.28L-0.8,0L-0.28,-0.28Z","M-0.9,-0.6L-0.6,-0.9L0,-0.3L0.6,-0.9L0.9,-0.6L0.3,0L0.9,0.6L0.6,0.9L0,0.3L-0.6,0.9L-0.9,0.6L-0.3,0Z","M0,-1L0.235,-0.324L0.951,-0.309L0.38,0.124L0.588,0.809L0,0.4L-0.588,0.809L-0.38,0.124L-0.951,-0.309L-0.235,-0.324Z","M0,-1L0.8,0L0,1L-0.8,0Z"]},"legend":null},
      "size":{"condition":{"test":"datum.group === 'Global'","value":420},"value":320}}},
    {"mark":{"type":"text","align":"left","baseline":"middle","dx":31,"font":"Liberation Sans","fontSize":23,"color":"#111111"},
     "encoding":{"text":{"field":"label","type":"nominal"}}}
   ]}
]},
{"layer":[
 {"data":{"values":[{}]},"mark":{"type":"rect","fillOpacity":0,"stroke":"#3c3c3c","strokeWidth":2.5},
  "encoding":{"x":{"datum":1989,"type":"quantitative","scale":{"domain":[1989,2022],"range":[143.5,1618],"nice":false,"zero":false},"axis":{"orient":"bottom","offset":-487,"values":[1989,1992,1995,1998,2001,2004,2007,2010,2013,2016,2019,2022],"format":"d","labelPadding":22,"title":"year","titlePadding":26}},"x2":{"datum":2022},
   "y":{"datum":25,"type":"quantitative","scale":{"domain":[25,65],"range":[1846,1293],"nice":false,"zero":false},"axis":{"orient":"left","offset":-143.5,"values":[25,30,35,40,45,50,55,60,65],"format":"d","title":"DALYs per 100,000","titlePadding":28,"titleFont":"DejaVu Sans","titleFontSize":22}},"y2":{"datum":65}}},
 {"data":{"name":"Cfit"},"mark":{"type":"line"},
  "encoding":{"x":{"field":"year","type":"quantitative","scale":{"domain":[1989,2022],"range":[143.5,1618],"nice":false,"zero":false},"axis":{"orient":"bottom","offset":-487,"values":[1989,1992,1995,1998,2001,2004,2007,2010,2013,2016,2019,2022],"format":"d","labelPadding":22,"title":"year","titlePadding":26}},
   "y":{"field":"value","type":"quantitative","scale":{"domain":[25,65],"range":[1846,1293],"nice":false,"zero":false},"axis":{"orient":"left","offset":-143.5,"values":[25,30,35,40,45,50,55,60,65],"format":"d","title":"DALYs per 100,000","titlePadding":28,"titleFont":"DejaVu Sans","titleFontSize":22}},
   "color":{"field":"group","type":"nominal","scale":{"domain":["Global","High SDI","High-middle SDI","Middle SDI","Low-middle SDI","Low SDI"],"range":["#3A4DA1","#63BC5F","#6D8092","#EEE78C","#BC6FB6","#EF5C9E"]},"legend":null},
   "strokeWidth":{"condition":{"test":"datum.group === 'Global'","value":6},"value":4}}},
 {"data":{"name":"Cobs"},"mark":{"type":"point","filled":true,"opacity":1},
  "encoding":{"x":{"field":"year","type":"quantitative","scale":{"domain":[1989,2022],"range":[143.5,1618],"nice":false,"zero":false},"axis":{"orient":"bottom","offset":-487,"values":[1989,1992,1995,1998,2001,2004,2007,2010,2013,2016,2019,2022],"format":"d","labelPadding":22,"title":"year","titlePadding":26}},
   "y":{"field":"value","type":"quantitative","scale":{"domain":[25,65],"range":[1846,1293],"nice":false,"zero":false},"axis":{"orient":"left","offset":-143.5,"values":[25,30,35,40,45,50,55,60,65],"format":"d","title":"DALYs per 100,000","titlePadding":28,"titleFont":"DejaVu Sans","titleFontSize":22}},
   "color":{"field":"group","type":"nominal","scale":{"domain":["Global","High SDI","High-middle SDI","Middle SDI","Low-middle SDI","Low SDI"],"range":["#3A4DA1","#63BC5F","#6D8092","#EEE78C","#BC6FB6","#EF5C9E"]},"legend":null},
   "shape":{"field":"group","type":"nominal","scale":{"domain":["Global","High-middle SDI","High SDI","Low-middle SDI","Low SDI","Middle SDI"],"range":["circle","triangle-up","M0,-1L0.28,-0.28L0.8,0L0.28,0.28L0,1L-0.28,0.28L-0.8,0L-0.28,-0.28Z","M-0.9,-0.6L-0.6,-0.9L0,-0.3L0.6,-0.9L0.9,-0.6L0.3,0L0.9,0.6L0.6,0.9L0,0.3L-0.6,0.9L-0.9,0.6L-0.3,0Z","M0,-1L0.235,-0.324L0.951,-0.309L0.38,0.124L0.588,0.809L0,0.4L-0.588,0.809L-0.38,0.124L-0.951,-0.309L-0.235,-0.324Z","M0,-1L0.8,0L0,1L-0.8,0Z"]},"legend":null},
   "size":{"condition":{"test":"datum.group === 'Global'","value":700},"value":600}}}
]},
{"layer":[
  {"data":{"values":[{}]},"mark":{"type":"rect","fillOpacity":0,"stroke":"#222222","strokeWidth":3},
   "encoding":{"x":{"datum":-1,"type":"quantitative","scale":{"domain":[-1,0,1,2,3,4],"range":[31,75,505,883,1305,1663],"nice":false,"zero":false},"axis":{"orient":"top","offset":0,"labels":false,"title":"Multiple Joinpoint Models","titleX":871,"titleY":1222,"titleAlign":"center","titleBaseline":"alphabetic","titleAngle":0,"titleFontSize":26}},"x2":{"datum":4},
    "y":{"datum":-0.72,"type":"quantitative","scale":{"domain":[-0.72,9.11],"range":[2003,2330],"nice":false,"zero":false},"axis":{"orient":"left","offset":0,"labels":false,"title":"C","titleX":30,"titleY":1279,"titleAngle":0,"titleAlign":"center","titleBaseline":"alphabetic","titleFont":"Liberation Serif","titleFontWeight":"normal","titleFontSize":84}},"y2":{"datum":9.11}}},
  {"data":{"name":"Cleg"},
   "encoding":{"x":{"field":"col","type":"quantitative","scale":{"domain":[-1,0,1,2,3,4],"range":[31,75,505,883,1305,1663],"nice":false,"zero":false},"axis":{"orient":"top","offset":0,"labels":false,"title":"Multiple Joinpoint Models","titleX":871,"titleY":1222,"titleAlign":"center","titleBaseline":"alphabetic","titleAngle":0,"titleFontSize":26}},
    "y":{"field":"row","type":"quantitative","scale":{"domain":[-0.72,9.11],"range":[2003,2330],"nice":false,"zero":false},"axis":{"orient":"left","offset":0,"labels":false,"title":"C","titleX":30,"titleY":1279,"titleAngle":0,"titleAlign":"center","titleBaseline":"alphabetic","titleFont":"Liberation Serif","titleFontWeight":"normal","titleFontSize":84}}},
   "layer":[
    {"transform":[{"filter":"datum.kind === 'seg'"}],"mark":{"type":"point","shape":"stroke","size":2116,"strokeWidth":4.5,"filled":false,"opacity":1},
     "encoding":{"color":{"field":"group","type":"nominal","scale":{"domain":["Global","High SDI","High-middle SDI","Middle SDI","Low-middle SDI","Low SDI"],"range":["#3A4DA1","#63BC5F","#6D8092","#EEE78C","#BC6FB6","#EF5C9E"]},"legend":null}}},
    {"transform":[{"filter":"datum.kind === 'head'"}],"mark":{"type":"point","filled":true,"opacity":1},
     "encoding":{"color":{"field":"group","type":"nominal","scale":{"domain":["Global","High SDI","High-middle SDI","Middle SDI","Low-middle SDI","Low SDI"],"range":["#3A4DA1","#63BC5F","#6D8092","#EEE78C","#BC6FB6","#EF5C9E"]},"legend":null},
      "shape":{"field":"group","type":"nominal","scale":{"domain":["Global","High-middle SDI","High SDI","Low-middle SDI","Low SDI","Middle SDI"],"range":["circle","triangle-up","M0,-1L0.28,-0.28L0.8,0L0.28,0.28L0,1L-0.28,0.28L-0.8,0L-0.28,-0.28Z","M-0.9,-0.6L-0.6,-0.9L0,-0.3L0.6,-0.9L0.9,-0.6L0.3,0L0.9,0.6L0.6,0.9L0,0.3L-0.6,0.9L-0.9,0.6L-0.3,0Z","M0,-1L0.235,-0.324L0.951,-0.309L0.38,0.124L0.588,0.809L0,0.4L-0.588,0.809L-0.38,0.124L-0.951,-0.309L-0.235,-0.324Z","M0,-1L0.8,0L0,1L-0.8,0Z"]},"legend":null},
      "size":{"condition":{"test":"datum.group === 'Global'","value":420},"value":320}}},
    {"mark":{"type":"text","align":"left","baseline":"middle","dx":31,"font":"Liberation Sans","fontSize":23,"color":"#111111"},
     "encoding":{"text":{"field":"label","type":"nominal"}}}
   ]}
]},
{"layer":[
 {"data":{"values":[{}]},"mark":{"type":"rect","fillOpacity":0,"stroke":"#3c3c3c","strokeWidth":2.5},
  "encoding":{"x":{"datum":1989,"type":"quantitative","scale":{"domain":[1989,2022],"range":[2002,3458],"nice":false,"zero":false},"axis":{"orient":"bottom","offset":-454,"values":[1989,1992,1995,1998,2001,2004,2007,2010,2013,2016,2019,2022],"format":"d","labelPadding":22,"title":"year","titlePadding":26}},"x2":{"datum":2022},
   "y":{"datum":0.1,"type":"quantitative","scale":{"domain":[0.1,0.6],"range":[1879,1293],"nice":false,"zero":false},"axis":{"orient":"left","offset":-2002,"values":[0.1,0.2,0.3,0.4,0.5,0.6],"format":".2f","title":"Population attributable fractions","titlePadding":28,"titleFont":"DejaVu Sans","titleFontSize":22}},"y2":{"datum":0.6}}},
 {"data":{"name":"Dfit"},"mark":{"type":"line"},
  "encoding":{"x":{"field":"year","type":"quantitative","scale":{"domain":[1989,2022],"range":[2002,3458],"nice":false,"zero":false},"axis":{"orient":"bottom","offset":-454,"values":[1989,1992,1995,1998,2001,2004,2007,2010,2013,2016,2019,2022],"format":"d","labelPadding":22,"title":"year","titlePadding":26}},
   "y":{"field":"value","type":"quantitative","scale":{"domain":[0.1,0.6],"range":[1879,1293],"nice":false,"zero":false},"axis":{"orient":"left","offset":-2002,"values":[0.1,0.2,0.3,0.4,0.5,0.6],"format":".2f","title":"Population attributable fractions","titlePadding":28,"titleFont":"DejaVu Sans","titleFontSize":22}},
   "color":{"field":"group","type":"nominal","scale":{"domain":["Global","High SDI","High-middle SDI","Middle SDI","Low-middle SDI","Low SDI"],"range":["#3A4DA1","#63BC5F","#6D8092","#EEE78C","#BC6FB6","#EF5C9E"]},"legend":null},
   "strokeWidth":{"condition":{"test":"datum.group === 'Global'","value":6},"value":4}}},
 {"data":{"name":"Dobs"},"mark":{"type":"point","filled":true,"opacity":1},
  "encoding":{"x":{"field":"year","type":"quantitative","scale":{"domain":[1989,2022],"range":[2002,3458],"nice":false,"zero":false},"axis":{"orient":"bottom","offset":-454,"values":[1989,1992,1995,1998,2001,2004,2007,2010,2013,2016,2019,2022],"format":"d","labelPadding":22,"title":"year","titlePadding":26}},
   "y":{"field":"value","type":"quantitative","scale":{"domain":[0.1,0.6],"range":[1879,1293],"nice":false,"zero":false},"axis":{"orient":"left","offset":-2002,"values":[0.1,0.2,0.3,0.4,0.5,0.6],"format":".2f","title":"Population attributable fractions","titlePadding":28,"titleFont":"DejaVu Sans","titleFontSize":22}},
   "color":{"field":"group","type":"nominal","scale":{"domain":["Global","High SDI","High-middle SDI","Middle SDI","Low-middle SDI","Low SDI"],"range":["#3A4DA1","#63BC5F","#6D8092","#EEE78C","#BC6FB6","#EF5C9E"]},"legend":null},
   "shape":{"field":"group","type":"nominal","scale":{"domain":["Global","High-middle SDI","High SDI","Low-middle SDI","Low SDI","Middle SDI"],"range":["circle","triangle-up","M0,-1L0.28,-0.28L0.8,0L0.28,0.28L0,1L-0.28,0.28L-0.8,0L-0.28,-0.28Z","M-0.9,-0.6L-0.6,-0.9L0,-0.3L0.6,-0.9L0.9,-0.6L0.3,0L0.9,0.6L0.6,0.9L0,0.3L-0.6,0.9L-0.9,0.6L-0.3,0Z","M0,-1L0.235,-0.324L0.951,-0.309L0.38,0.124L0.588,0.809L0,0.4L-0.588,0.809L-0.38,0.124L-0.951,-0.309L-0.235,-0.324Z","M0,-1L0.8,0L0,1L-0.8,0Z"]},"legend":null},
   "size":{"condition":{"test":"datum.group === 'Global'","value":700},"value":600}}}
]},
{"layer":[
  {"data":{"values":[{}]},"mark":{"type":"rect","fillOpacity":0,"stroke":"#222222","strokeWidth":3},
   "encoding":{"x":{"datum":-1,"type":"quantitative","scale":{"domain":[-1,0,1,2,3,4],"range":[1870,1912,2343,2727,3153,3513],"nice":false,"zero":false},"axis":{"orient":"top","offset":0,"labels":false,"title":"Multiple Joinpoint Models","titleX":2712,"titleY":1222,"titleAlign":"center","titleBaseline":"alphabetic","titleAngle":0,"titleFontSize":26}},"x2":{"datum":4},
    "y":{"datum":-0.72,"type":"quantitative","scale":{"domain":[-0.72,8.1],"range":[2036,2330],"nice":false,"zero":false},"axis":{"orient":"left","offset":0,"labels":false,"title":"D","titleX":1866,"titleY":1285,"titleAngle":0,"titleAlign":"center","titleBaseline":"alphabetic","titleFont":"Liberation Serif","titleFontWeight":"normal","titleFontSize":84}},"y2":{"datum":8.1}}},
  {"data":{"name":"Dleg"},
   "encoding":{"x":{"field":"col","type":"quantitative","scale":{"domain":[-1,0,1,2,3,4],"range":[1870,1912,2343,2727,3153,3513],"nice":false,"zero":false},"axis":{"orient":"top","offset":0,"labels":false,"title":"Multiple Joinpoint Models","titleX":2712,"titleY":1222,"titleAlign":"center","titleBaseline":"alphabetic","titleAngle":0,"titleFontSize":26}},
    "y":{"field":"row","type":"quantitative","scale":{"domain":[-0.72,8.1],"range":[2036,2330],"nice":false,"zero":false},"axis":{"orient":"left","offset":0,"labels":false,"title":"D","titleX":1866,"titleY":1285,"titleAngle":0,"titleAlign":"center","titleBaseline":"alphabetic","titleFont":"Liberation Serif","titleFontWeight":"normal","titleFontSize":84}}},
   "layer":[
    {"transform":[{"filter":"datum.kind === 'seg'"}],"mark":{"type":"point","shape":"stroke","size":2116,"strokeWidth":4.5,"filled":false,"opacity":1},
     "encoding":{"color":{"field":"group","type":"nominal","scale":{"domain":["Global","High SDI","High-middle SDI","Middle SDI","Low-middle SDI","Low SDI"],"range":["#3A4DA1","#63BC5F","#6D8092","#EEE78C","#BC6FB6","#EF5C9E"]},"legend":null}}},
    {"transform":[{"filter":"datum.kind === 'head'"}],"mark":{"type":"point","filled":true,"opacity":1},
     "encoding":{"color":{"field":"group","type":"nominal","scale":{"domain":["Global","High SDI","High-middle SDI","Middle SDI","Low-middle SDI","Low SDI"],"range":["#3A4DA1","#63BC5F","#6D8092","#EEE78C","#BC6FB6","#EF5C9E"]},"legend":null},
      "shape":{"field":"group","type":"nominal","scale":{"domain":["Global","High-middle SDI","High SDI","Low-middle SDI","Low SDI","Middle SDI"],"range":["circle","triangle-up","M0,-1L0.28,-0.28L0.8,0L0.28,0.28L0,1L-0.28,0.28L-0.8,0L-0.28,-0.28Z","M-0.9,-0.6L-0.6,-0.9L0,-0.3L0.6,-0.9L0.9,-0.6L0.3,0L0.9,0.6L0.6,0.9L0,0.3L-0.6,0.9L-0.9,0.6L-0.3,0Z","M0,-1L0.235,-0.324L0.951,-0.309L0.38,0.124L0.588,0.809L0,0.4L-0.588,0.809L-0.38,0.124L-0.951,-0.309L-0.235,-0.324Z","M0,-1L0.8,0L0,1L-0.8,0Z"]},"legend":null},
      "size":{"condition":{"test":"datum.group === 'Global'","value":420},"value":320}}},
    {"mark":{"type":"text","align":"left","baseline":"middle","dx":31,"font":"Liberation Sans","fontSize":23,"color":"#111111"},
     "encoding":{"text":{"field":"label","type":"nominal"}}}
   ]}
]}
]
}
